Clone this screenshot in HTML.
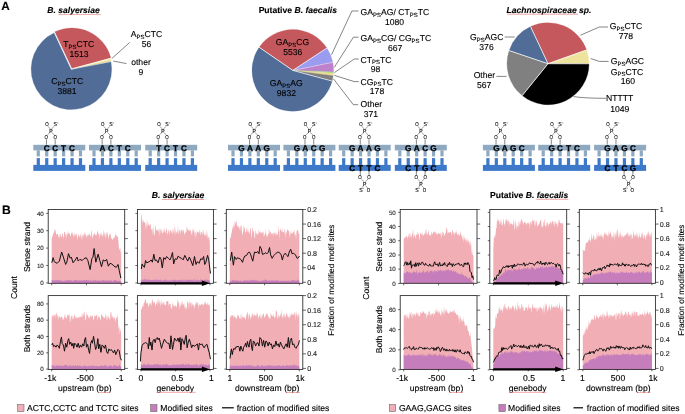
<!DOCTYPE html>
<html><head><meta charset="utf-8"><style>
html,body{margin:0;padding:0;background:#fff;overflow:hidden;width:685px;height:414px;}
svg{display:block;font-family:"Liberation Sans", sans-serif;text-rendering:geometricPrecision;filter:blur(0.4px);}
text{stroke:currentColor;stroke-width:0.12px;}
</style></head><body>
<svg width="685" height="414" viewBox="0 0 685 414">
<rect width="685" height="414" fill="#fff"/>
<text x="1.20" y="9.80" font-size="11.8" text-anchor="start" font-weight="bold" font-style="normal" fill="#000" color="#000" >A</text>
<text x="73.50" y="13.10" font-size="8.6" text-anchor="middle" font-weight="bold" font-style="italic" fill="#000" color="#000" >B. salyersiae</text>
<text x="297.8" y="13.4" font-size="8.6" text-anchor="middle" font-weight="bold">Putative <tspan font-style="italic">B. faecalis</tspan></text>
<text x="549.00" y="13.00" font-size="8.6" text-anchor="middle" font-weight="bold" font-style="italic" fill="#000" color="#000" >Lachnospiraceae sp.</text>
<path d="M71.40,69.30 L54.37,32.78 A40.3,40.3 0 0 1 110.29,58.72 Z" fill="#C5585D" stroke="#C5585D" stroke-width="0.25" transform="translate(0.51,-1.09)"/>
<path d="M71.40,69.30 L110.29,58.72 A40.3,40.3 0 0 1 110.89,61.24 Z" fill="#EEE39D" stroke="#EEE39D" stroke-width="0.25"/>
<path d="M71.40,69.30 L110.89,61.24 A40.3,40.3 0 0 1 110.97,61.65 Z" fill="#E8D58A" stroke="#E8D58A" stroke-width="0.25"/>
<path d="M71.40,69.30 L110.97,61.65 A40.3,40.3 0 1 1 54.37,32.78 Z" fill="#506C97" stroke="#506C97" stroke-width="0.25"/>
<line x1="71.40" y1="69.30" x2="54.24" y2="32.50" stroke="#fff" stroke-width="0.8"/>
<line x1="71.40" y1="69.30" x2="110.58" y2="58.64" stroke="#fff" stroke-width="0.45"/>
<line x1="71.40" y1="69.30" x2="111.26" y2="61.60" stroke="#fff" stroke-width="0.4"/>
<text x="78.80" y="47.20" font-size="8.6" text-anchor="middle" font-weight="normal" font-style="normal" fill="#000" color="#000" >T<tspan font-size="6.02" dy="1.72">PS</tspan><tspan dy="-1.72">CTC</tspan></text>
<text x="79.00" y="57.40" font-size="8.6" text-anchor="middle" font-weight="normal" font-style="normal" fill="#000" color="#000" >1513</text>
<text x="67.30" y="84.00" font-size="8.6" text-anchor="middle" font-weight="normal" font-style="normal" fill="#000" color="#000" >C<tspan font-size="6.02" dy="1.72">PS</tspan><tspan dy="-1.72">CTC</tspan></text>
<text x="67.10" y="94.30" font-size="8.6" text-anchor="middle" font-weight="normal" font-style="normal" fill="#000" color="#000" >3881</text>
<text x="146.50" y="37.30" font-size="8.6" text-anchor="middle" font-weight="normal" font-style="normal" fill="#000" color="#000" >A<tspan font-size="6.02" dy="1.72">PS</tspan><tspan dy="-1.72">CTC</tspan></text>
<text x="146.50" y="47.20" font-size="8.6" text-anchor="middle" font-weight="normal" font-style="normal" fill="#000" color="#000" >56</text>
<text x="141.00" y="65.30" font-size="8.6" text-anchor="middle" font-weight="normal" font-style="normal" fill="#000" color="#000" >other</text>
<text x="141.00" y="74.50" font-size="8.6" text-anchor="middle" font-weight="normal" font-style="normal" fill="#000" color="#000" >9</text>
<line x1="111.80" y1="58.50" x2="129.80" y2="42.40" stroke="#333" stroke-width="0.6"/>
<line x1="113.30" y1="61.00" x2="126.40" y2="63.60" stroke="#333" stroke-width="0.6"/>
<path d="M292.80,70.40 L259.18,47.29 A40.8,40.8 0 0 1 326.90,48.00 Z" fill="#C5585D" stroke="#C5585D" stroke-width="0.25"/>
<path d="M292.80,70.40 L326.90,48.00 A40.8,40.8 0 0 1 332.79,62.33 Z" fill="#9B9BF0" stroke="#9B9BF0" stroke-width="0.25"/>
<path d="M292.80,70.40 L332.79,62.33 A40.8,40.8 0 0 1 333.57,71.90 Z" fill="#BE82CD" stroke="#BE82CD" stroke-width="0.25"/>
<path d="M292.80,70.40 L333.57,71.90 A40.8,40.8 0 0 1 333.50,73.32 Z" fill="#A6DC88" stroke="#A6DC88" stroke-width="0.25"/>
<path d="M292.80,70.40 L333.50,73.32 A40.8,40.8 0 0 1 333.23,75.87 Z" fill="#ECDC8E" stroke="#ECDC8E" stroke-width="0.25"/>
<path d="M292.80,70.40 L333.23,75.87 A40.8,40.8 0 0 1 332.17,81.11 Z" fill="#808080" stroke="#808080" stroke-width="0.25"/>
<path d="M292.80,70.40 L332.17,81.11 A40.8,40.8 0 1 1 259.18,47.29 Z" fill="#506C97" stroke="#506C97" stroke-width="0.25"/>
<line x1="292.80" y1="70.40" x2="258.93" y2="47.12" stroke="#fff" stroke-width="0.8"/>
<line x1="292.80" y1="70.40" x2="327.15" y2="47.84" stroke="#fff" stroke-width="0.7"/>
<line x1="292.80" y1="70.40" x2="333.09" y2="62.27" stroke="#fff" stroke-width="0.4"/>
<line x1="292.80" y1="70.40" x2="332.46" y2="81.19" stroke="#fff" stroke-width="0.7"/>
<text x="292.40" y="45.10" font-size="8.6" text-anchor="middle" font-weight="normal" font-style="normal" fill="#000" color="#000" >GA<tspan font-size="6.02" dy="1.72">PS</tspan><tspan dy="-1.72">CG</tspan></text>
<text x="292.70" y="55.20" font-size="8.6" text-anchor="middle" font-weight="normal" font-style="normal" fill="#000" color="#000" >5536</text>
<text x="286.20" y="85.80" font-size="8.6" text-anchor="middle" font-weight="normal" font-style="normal" fill="#000" color="#000" >GA<tspan font-size="6.02" dy="1.72">PS</tspan><tspan dy="-1.72">AG</tspan></text>
<text x="286.40" y="95.80" font-size="8.6" text-anchor="middle" font-weight="normal" font-style="normal" fill="#000" color="#000" >9832</text>
<text x="360.60" y="15.00" font-size="8.6" text-anchor="start" font-weight="normal" font-style="normal" fill="#000" color="#000" >GA<tspan font-size="6.02" dy="1.72">PS</tspan><tspan dy="-1.72">AG/ CT</tspan><tspan font-size="6.02" dy="1.72">PS</tspan><tspan dy="-1.72">TC</tspan></text>
<text x="394.60" y="25.10" font-size="8.6" text-anchor="middle" font-weight="normal" font-style="normal" fill="#000" color="#000" >1080</text>
<text x="360.60" y="41.20" font-size="8.6" text-anchor="start" font-weight="normal" font-style="normal" fill="#000" color="#000" >GA<tspan font-size="6.02" dy="1.72">PS</tspan><tspan dy="-1.72">CG/ CG</tspan><tspan font-size="6.02" dy="1.72">PS</tspan><tspan dy="-1.72">TC</tspan></text>
<text x="395.20" y="51.10" font-size="8.6" text-anchor="middle" font-weight="normal" font-style="normal" fill="#000" color="#000" >667</text>
<text x="360.60" y="62.60" font-size="8.6" text-anchor="start" font-weight="normal" font-style="normal" fill="#000" color="#000" >CT<tspan font-size="6.02" dy="1.72">PS</tspan><tspan dy="-1.72">TC</tspan></text>
<text x="375.50" y="72.40" font-size="8.6" text-anchor="middle" font-weight="normal" font-style="normal" fill="#000" color="#000" >98</text>
<text x="360.60" y="84.50" font-size="8.6" text-anchor="start" font-weight="normal" font-style="normal" fill="#000" color="#000" >CG<tspan font-size="6.02" dy="1.72">PS</tspan><tspan dy="-1.72">TC</tspan></text>
<text x="377.00" y="94.30" font-size="8.6" text-anchor="middle" font-weight="normal" font-style="normal" fill="#000" color="#000" >178</text>
<text x="360.60" y="107.20" font-size="8.6" text-anchor="start" font-weight="normal" font-style="normal" fill="#000" color="#000" >Other</text>
<text x="370.80" y="117.40" font-size="8.6" text-anchor="middle" font-weight="normal" font-style="normal" fill="#000" color="#000" >371</text>
<polyline points="331.50,54.80 351.90,11.00 358.50,11.00" fill="none" stroke="#333" stroke-width="0.6"/>
<polyline points="334.30,67.30 353.40,37.20 358.50,37.20" fill="none" stroke="#333" stroke-width="0.6"/>
<polyline points="334.40,72.60 354.30,59.00 358.70,59.00" fill="none" stroke="#333" stroke-width="0.6"/>
<polyline points="334.40,75.40 354.30,81.60 358.70,81.60" fill="none" stroke="#333" stroke-width="0.6"/>
<polyline points="333.60,79.00 353.30,104.70 358.20,104.70" fill="none" stroke="#333" stroke-width="0.6"/>
<path d="M548.00,63.70 L530.54,26.60 A41.0,41.0 0 0 1 586.62,49.94 Z" fill="#C5585D" stroke="#C5585D" stroke-width="0.25"/>
<path d="M548.00,63.70 L586.62,49.94 A41.0,41.0 0 0 1 589.00,63.74 Z" fill="#EEE39D" stroke="#EEE39D" stroke-width="0.25"/>
<path d="M548.00,63.70 L589.00,63.74 A41.0,41.0 0 0 1 522.23,95.59 Z" fill="#000" stroke="#000" stroke-width="0.25"/>
<path d="M548.00,63.70 L522.23,95.59 A41.0,41.0 0 0 1 509.14,50.62 Z" fill="#808080" stroke="#808080" stroke-width="0.25"/>
<path d="M548.00,63.70 L509.14,50.62 A41.0,41.0 0 0 1 530.54,26.60 Z" fill="#506C97" stroke="#506C97" stroke-width="0.25"/>
<line x1="548.00" y1="63.70" x2="530.42" y2="26.33" stroke="#fff" stroke-width="0.8"/>
<line x1="548.00" y1="63.70" x2="586.90" y2="49.84" stroke="#fff" stroke-width="0.8"/>
<line x1="548.00" y1="63.70" x2="589.30" y2="63.74" stroke="#fff" stroke-width="0.8"/>
<line x1="548.00" y1="63.70" x2="522.04" y2="95.82" stroke="#fff" stroke-width="0.8"/>
<line x1="548.00" y1="63.70" x2="508.86" y2="50.53" stroke="#fff" stroke-width="0.8"/>
<text x="486.70" y="40.30" font-size="8.6" text-anchor="middle" font-weight="normal" font-style="normal" fill="#000" color="#000" >G<tspan font-size="6.02" dy="1.72">PS</tspan><tspan dy="-1.72">AGC</tspan></text>
<text x="486.50" y="50.10" font-size="8.6" text-anchor="middle" font-weight="normal" font-style="normal" fill="#000" color="#000" >376</text>
<text x="484.40" y="78.10" font-size="8.6" text-anchor="middle" font-weight="normal" font-style="normal" fill="#000" color="#000" >Other</text>
<text x="484.10" y="88.00" font-size="8.6" text-anchor="middle" font-weight="normal" font-style="normal" fill="#000" color="#000" >567</text>
<text x="625.90" y="29.30" font-size="8.6" text-anchor="middle" font-weight="normal" font-style="normal" fill="#000" color="#000" >G<tspan font-size="6.02" dy="1.72">PS</tspan><tspan dy="-1.72">CTC</tspan></text>
<text x="625.90" y="39.40" font-size="8.6" text-anchor="middle" font-weight="normal" font-style="normal" fill="#000" color="#000" >778</text>
<text x="627.40" y="64.40" font-size="8.6" text-anchor="middle" font-weight="normal" font-style="normal" fill="#000" color="#000" >G<tspan font-size="6.02" dy="1.72">PS</tspan><tspan dy="-1.72">AGC</tspan></text>
<text x="627.00" y="74.60" font-size="8.6" text-anchor="middle" font-weight="normal" font-style="normal" fill="#000" color="#000" >G<tspan font-size="6.02" dy="1.72">PS</tspan><tspan dy="-1.72">CTC</tspan></text>
<text x="627.80" y="84.40" font-size="8.6" text-anchor="middle" font-weight="normal" font-style="normal" fill="#000" color="#000" >160</text>
<text x="619.60" y="101.00" font-size="8.6" text-anchor="middle" font-weight="normal" font-style="normal" fill="#000" color="#000" >NTTTT</text>
<text x="619.80" y="111.60" font-size="8.6" text-anchor="middle" font-weight="normal" font-style="normal" fill="#000" color="#000" >1049</text>
<line x1="504.70" y1="37.00" x2="514.70" y2="37.00" stroke="#333" stroke-width="0.6"/>
<line x1="496.40" y1="76.40" x2="506.60" y2="76.40" stroke="#333" stroke-width="0.6"/>
<polyline points="580.50,35.20 599.30,27.00 608.00,27.00" fill="none" stroke="#333" stroke-width="0.6"/>
<polyline points="590.60,58.50 599.30,61.40 608.60,61.40" fill="none" stroke="#333" stroke-width="0.6"/>
<path d="M573.4,96.6 Q585,98.3 606,98.3" fill="none" stroke="#333" stroke-width="0.6"/>
<rect x="33.30" y="144.8" width="52.0" height="5.6" fill="#8FA9C1"/>
<rect x="33.30" y="164.9" width="52.0" height="6.0" fill="#3D79C8"/>
<rect x="36.70" y="150.3" width="3.2" height="6.1" fill="#8FA9C1"/>
<rect x="36.70" y="158.1" width="3.2" height="6.9" fill="#3D79C8"/>
<rect x="45.14" y="150.3" width="3.2" height="6.1" fill="#8FA9C1"/>
<rect x="45.14" y="158.1" width="3.2" height="6.9" fill="#3D79C8"/>
<rect x="53.58" y="150.3" width="3.2" height="6.1" fill="#8FA9C1"/>
<rect x="53.58" y="158.1" width="3.2" height="6.9" fill="#3D79C8"/>
<rect x="62.02" y="150.3" width="3.2" height="6.1" fill="#8FA9C1"/>
<rect x="62.02" y="158.1" width="3.2" height="6.9" fill="#3D79C8"/>
<rect x="70.46" y="150.3" width="3.2" height="6.1" fill="#8FA9C1"/>
<rect x="70.46" y="158.1" width="3.2" height="6.9" fill="#3D79C8"/>
<rect x="78.90" y="150.3" width="3.2" height="6.1" fill="#8FA9C1"/>
<rect x="78.90" y="158.1" width="3.2" height="6.9" fill="#3D79C8"/>
<text x="46.74" y="150.50" font-size="8.2" text-anchor="middle" font-weight="bold" font-style="normal" fill="#000" color="#000" style="stroke-width:0.3px">C</text>
<text x="55.18" y="150.50" font-size="8.2" text-anchor="middle" font-weight="bold" font-style="normal" fill="#000" color="#000" style="stroke-width:0.3px">C</text>
<text x="63.62" y="150.50" font-size="8.2" text-anchor="middle" font-weight="bold" font-style="normal" fill="#000" color="#000" style="stroke-width:0.3px">T</text>
<text x="72.06" y="150.50" font-size="8.2" text-anchor="middle" font-weight="bold" font-style="normal" fill="#000" color="#000" style="stroke-width:0.3px">C</text>
<text x="47.04" y="126.45" font-size="5.7" text-anchor="middle" textLength="3.42" lengthAdjust="spacingAndGlyphs">O</text>
<text x="55.18" y="126.45" font-size="5.7" text-anchor="middle" textLength="3.42" lengthAdjust="spacingAndGlyphs">S</text>
<line x1="57.08" y1="123.00" x2="58.38" y2="123.00" stroke="#222" stroke-width="0.45"/>
<text x="50.96" y="132.65" font-size="5.7" text-anchor="middle" textLength="3.42" lengthAdjust="spacingAndGlyphs">P</text>
<text x="46.24" y="139.05" font-size="5.7" text-anchor="middle" textLength="3.42" lengthAdjust="spacingAndGlyphs">O</text>
<text x="55.18" y="139.05" font-size="5.7" text-anchor="middle" textLength="3.42" lengthAdjust="spacingAndGlyphs">O</text>
<line x1="47.94" y1="126.30" x2="50.26" y2="128.90" stroke="#222" stroke-width="0.42"/>
<line x1="54.08" y1="126.30" x2="51.66" y2="128.90" stroke="#222" stroke-width="0.42"/>
<line x1="50.16" y1="132.30" x2="47.34" y2="135.00" stroke="#222" stroke-width="0.42"/>
<line x1="51.76" y1="132.30" x2="54.28" y2="135.00" stroke="#222" stroke-width="0.42"/>
<line x1="46.44" y1="139.20" x2="46.44" y2="144.60" stroke="#222" stroke-width="0.55"/>
<line x1="55.18" y1="139.20" x2="55.18" y2="144.60" stroke="#222" stroke-width="0.55"/>
<rect x="89.00" y="144.8" width="52.0" height="5.6" fill="#8FA9C1"/>
<rect x="89.00" y="164.9" width="52.0" height="6.0" fill="#3D79C8"/>
<rect x="92.40" y="150.3" width="3.2" height="6.1" fill="#8FA9C1"/>
<rect x="92.40" y="158.1" width="3.2" height="6.9" fill="#3D79C8"/>
<rect x="100.84" y="150.3" width="3.2" height="6.1" fill="#8FA9C1"/>
<rect x="100.84" y="158.1" width="3.2" height="6.9" fill="#3D79C8"/>
<rect x="109.28" y="150.3" width="3.2" height="6.1" fill="#8FA9C1"/>
<rect x="109.28" y="158.1" width="3.2" height="6.9" fill="#3D79C8"/>
<rect x="117.72" y="150.3" width="3.2" height="6.1" fill="#8FA9C1"/>
<rect x="117.72" y="158.1" width="3.2" height="6.9" fill="#3D79C8"/>
<rect x="126.16" y="150.3" width="3.2" height="6.1" fill="#8FA9C1"/>
<rect x="126.16" y="158.1" width="3.2" height="6.9" fill="#3D79C8"/>
<rect x="134.60" y="150.3" width="3.2" height="6.1" fill="#8FA9C1"/>
<rect x="134.60" y="158.1" width="3.2" height="6.9" fill="#3D79C8"/>
<text x="102.44" y="150.50" font-size="8.2" text-anchor="middle" font-weight="bold" font-style="normal" fill="#000" color="#000" style="stroke-width:0.3px">A</text>
<text x="110.88" y="150.50" font-size="8.2" text-anchor="middle" font-weight="bold" font-style="normal" fill="#000" color="#000" style="stroke-width:0.3px">C</text>
<text x="119.32" y="150.50" font-size="8.2" text-anchor="middle" font-weight="bold" font-style="normal" fill="#000" color="#000" style="stroke-width:0.3px">T</text>
<text x="127.76" y="150.50" font-size="8.2" text-anchor="middle" font-weight="bold" font-style="normal" fill="#000" color="#000" style="stroke-width:0.3px">C</text>
<text x="102.74" y="126.45" font-size="5.7" text-anchor="middle" textLength="3.42" lengthAdjust="spacingAndGlyphs">O</text>
<text x="110.88" y="126.45" font-size="5.7" text-anchor="middle" textLength="3.42" lengthAdjust="spacingAndGlyphs">S</text>
<line x1="112.78" y1="123.00" x2="114.08" y2="123.00" stroke="#222" stroke-width="0.45"/>
<text x="106.66" y="132.65" font-size="5.7" text-anchor="middle" textLength="3.42" lengthAdjust="spacingAndGlyphs">P</text>
<text x="101.94" y="139.05" font-size="5.7" text-anchor="middle" textLength="3.42" lengthAdjust="spacingAndGlyphs">O</text>
<text x="110.88" y="139.05" font-size="5.7" text-anchor="middle" textLength="3.42" lengthAdjust="spacingAndGlyphs">O</text>
<line x1="103.64" y1="126.30" x2="105.96" y2="128.90" stroke="#222" stroke-width="0.42"/>
<line x1="109.78" y1="126.30" x2="107.36" y2="128.90" stroke="#222" stroke-width="0.42"/>
<line x1="105.86" y1="132.30" x2="103.04" y2="135.00" stroke="#222" stroke-width="0.42"/>
<line x1="107.46" y1="132.30" x2="109.98" y2="135.00" stroke="#222" stroke-width="0.42"/>
<line x1="102.14" y1="139.20" x2="102.14" y2="144.60" stroke="#222" stroke-width="0.55"/>
<line x1="110.88" y1="139.20" x2="110.88" y2="144.60" stroke="#222" stroke-width="0.55"/>
<rect x="145.20" y="144.8" width="52.0" height="5.6" fill="#8FA9C1"/>
<rect x="145.20" y="164.9" width="52.0" height="6.0" fill="#3D79C8"/>
<rect x="148.60" y="150.3" width="3.2" height="6.1" fill="#8FA9C1"/>
<rect x="148.60" y="158.1" width="3.2" height="6.9" fill="#3D79C8"/>
<rect x="157.04" y="150.3" width="3.2" height="6.1" fill="#8FA9C1"/>
<rect x="157.04" y="158.1" width="3.2" height="6.9" fill="#3D79C8"/>
<rect x="165.48" y="150.3" width="3.2" height="6.1" fill="#8FA9C1"/>
<rect x="165.48" y="158.1" width="3.2" height="6.9" fill="#3D79C8"/>
<rect x="173.92" y="150.3" width="3.2" height="6.1" fill="#8FA9C1"/>
<rect x="173.92" y="158.1" width="3.2" height="6.9" fill="#3D79C8"/>
<rect x="182.36" y="150.3" width="3.2" height="6.1" fill="#8FA9C1"/>
<rect x="182.36" y="158.1" width="3.2" height="6.9" fill="#3D79C8"/>
<rect x="190.80" y="150.3" width="3.2" height="6.1" fill="#8FA9C1"/>
<rect x="190.80" y="158.1" width="3.2" height="6.9" fill="#3D79C8"/>
<text x="158.64" y="150.50" font-size="8.2" text-anchor="middle" font-weight="bold" font-style="normal" fill="#000" color="#000" style="stroke-width:0.3px">T</text>
<text x="167.08" y="150.50" font-size="8.2" text-anchor="middle" font-weight="bold" font-style="normal" fill="#000" color="#000" style="stroke-width:0.3px">C</text>
<text x="175.52" y="150.50" font-size="8.2" text-anchor="middle" font-weight="bold" font-style="normal" fill="#000" color="#000" style="stroke-width:0.3px">T</text>
<text x="183.96" y="150.50" font-size="8.2" text-anchor="middle" font-weight="bold" font-style="normal" fill="#000" color="#000" style="stroke-width:0.3px">C</text>
<text x="158.94" y="126.45" font-size="5.7" text-anchor="middle" textLength="3.42" lengthAdjust="spacingAndGlyphs">O</text>
<text x="167.08" y="126.45" font-size="5.7" text-anchor="middle" textLength="3.42" lengthAdjust="spacingAndGlyphs">S</text>
<line x1="168.98" y1="123.00" x2="170.28" y2="123.00" stroke="#222" stroke-width="0.45"/>
<text x="162.86" y="132.65" font-size="5.7" text-anchor="middle" textLength="3.42" lengthAdjust="spacingAndGlyphs">P</text>
<text x="158.14" y="139.05" font-size="5.7" text-anchor="middle" textLength="3.42" lengthAdjust="spacingAndGlyphs">O</text>
<text x="167.08" y="139.05" font-size="5.7" text-anchor="middle" textLength="3.42" lengthAdjust="spacingAndGlyphs">O</text>
<line x1="159.84" y1="126.30" x2="162.16" y2="128.90" stroke="#222" stroke-width="0.42"/>
<line x1="165.98" y1="126.30" x2="163.56" y2="128.90" stroke="#222" stroke-width="0.42"/>
<line x1="162.06" y1="132.30" x2="159.24" y2="135.00" stroke="#222" stroke-width="0.42"/>
<line x1="163.66" y1="132.30" x2="166.18" y2="135.00" stroke="#222" stroke-width="0.42"/>
<line x1="158.34" y1="139.20" x2="158.34" y2="144.60" stroke="#222" stroke-width="0.55"/>
<line x1="167.08" y1="139.20" x2="167.08" y2="144.60" stroke="#222" stroke-width="0.55"/>
<rect x="228.00" y="144.8" width="52.0" height="5.6" fill="#8FA9C1"/>
<rect x="228.00" y="164.9" width="52.0" height="6.0" fill="#3D79C8"/>
<rect x="231.40" y="150.3" width="3.2" height="6.1" fill="#8FA9C1"/>
<rect x="231.40" y="158.1" width="3.2" height="6.9" fill="#3D79C8"/>
<rect x="239.84" y="150.3" width="3.2" height="6.1" fill="#8FA9C1"/>
<rect x="239.84" y="158.1" width="3.2" height="6.9" fill="#3D79C8"/>
<rect x="248.28" y="150.3" width="3.2" height="6.1" fill="#8FA9C1"/>
<rect x="248.28" y="158.1" width="3.2" height="6.9" fill="#3D79C8"/>
<rect x="256.72" y="150.3" width="3.2" height="6.1" fill="#8FA9C1"/>
<rect x="256.72" y="158.1" width="3.2" height="6.9" fill="#3D79C8"/>
<rect x="265.16" y="150.3" width="3.2" height="6.1" fill="#8FA9C1"/>
<rect x="265.16" y="158.1" width="3.2" height="6.9" fill="#3D79C8"/>
<rect x="273.60" y="150.3" width="3.2" height="6.1" fill="#8FA9C1"/>
<rect x="273.60" y="158.1" width="3.2" height="6.9" fill="#3D79C8"/>
<text x="241.44" y="150.50" font-size="8.2" text-anchor="middle" font-weight="bold" font-style="normal" fill="#000" color="#000" style="stroke-width:0.3px">G</text>
<text x="249.88" y="150.50" font-size="8.2" text-anchor="middle" font-weight="bold" font-style="normal" fill="#000" color="#000" style="stroke-width:0.3px">A</text>
<text x="258.32" y="150.50" font-size="8.2" text-anchor="middle" font-weight="bold" font-style="normal" fill="#000" color="#000" style="stroke-width:0.3px">A</text>
<text x="266.76" y="150.50" font-size="8.2" text-anchor="middle" font-weight="bold" font-style="normal" fill="#000" color="#000" style="stroke-width:0.3px">G</text>
<text x="250.18" y="126.45" font-size="5.7" text-anchor="middle" textLength="3.42" lengthAdjust="spacingAndGlyphs">O</text>
<text x="258.32" y="126.45" font-size="5.7" text-anchor="middle" textLength="3.42" lengthAdjust="spacingAndGlyphs">S</text>
<line x1="260.22" y1="123.00" x2="261.52" y2="123.00" stroke="#222" stroke-width="0.45"/>
<text x="254.10" y="132.65" font-size="5.7" text-anchor="middle" textLength="3.42" lengthAdjust="spacingAndGlyphs">P</text>
<text x="249.38" y="139.05" font-size="5.7" text-anchor="middle" textLength="3.42" lengthAdjust="spacingAndGlyphs">O</text>
<text x="258.32" y="139.05" font-size="5.7" text-anchor="middle" textLength="3.42" lengthAdjust="spacingAndGlyphs">O</text>
<line x1="251.08" y1="126.30" x2="253.40" y2="128.90" stroke="#222" stroke-width="0.42"/>
<line x1="257.22" y1="126.30" x2="254.80" y2="128.90" stroke="#222" stroke-width="0.42"/>
<line x1="253.30" y1="132.30" x2="250.48" y2="135.00" stroke="#222" stroke-width="0.42"/>
<line x1="254.90" y1="132.30" x2="257.42" y2="135.00" stroke="#222" stroke-width="0.42"/>
<line x1="249.58" y1="139.20" x2="249.58" y2="144.60" stroke="#222" stroke-width="0.55"/>
<line x1="258.32" y1="139.20" x2="258.32" y2="144.60" stroke="#222" stroke-width="0.55"/>
<rect x="283.40" y="144.8" width="52.0" height="5.6" fill="#8FA9C1"/>
<rect x="283.40" y="164.9" width="52.0" height="6.0" fill="#3D79C8"/>
<rect x="286.80" y="150.3" width="3.2" height="6.1" fill="#8FA9C1"/>
<rect x="286.80" y="158.1" width="3.2" height="6.9" fill="#3D79C8"/>
<rect x="295.24" y="150.3" width="3.2" height="6.1" fill="#8FA9C1"/>
<rect x="295.24" y="158.1" width="3.2" height="6.9" fill="#3D79C8"/>
<rect x="303.68" y="150.3" width="3.2" height="6.1" fill="#8FA9C1"/>
<rect x="303.68" y="158.1" width="3.2" height="6.9" fill="#3D79C8"/>
<rect x="312.12" y="150.3" width="3.2" height="6.1" fill="#8FA9C1"/>
<rect x="312.12" y="158.1" width="3.2" height="6.9" fill="#3D79C8"/>
<rect x="320.56" y="150.3" width="3.2" height="6.1" fill="#8FA9C1"/>
<rect x="320.56" y="158.1" width="3.2" height="6.9" fill="#3D79C8"/>
<rect x="329.00" y="150.3" width="3.2" height="6.1" fill="#8FA9C1"/>
<rect x="329.00" y="158.1" width="3.2" height="6.9" fill="#3D79C8"/>
<text x="296.84" y="150.50" font-size="8.2" text-anchor="middle" font-weight="bold" font-style="normal" fill="#000" color="#000" style="stroke-width:0.3px">G</text>
<text x="305.28" y="150.50" font-size="8.2" text-anchor="middle" font-weight="bold" font-style="normal" fill="#000" color="#000" style="stroke-width:0.3px">A</text>
<text x="313.72" y="150.50" font-size="8.2" text-anchor="middle" font-weight="bold" font-style="normal" fill="#000" color="#000" style="stroke-width:0.3px">C</text>
<text x="322.16" y="150.50" font-size="8.2" text-anchor="middle" font-weight="bold" font-style="normal" fill="#000" color="#000" style="stroke-width:0.3px">G</text>
<text x="305.58" y="126.45" font-size="5.7" text-anchor="middle" textLength="3.42" lengthAdjust="spacingAndGlyphs">O</text>
<text x="313.72" y="126.45" font-size="5.7" text-anchor="middle" textLength="3.42" lengthAdjust="spacingAndGlyphs">S</text>
<line x1="315.62" y1="123.00" x2="316.92" y2="123.00" stroke="#222" stroke-width="0.45"/>
<text x="309.50" y="132.65" font-size="5.7" text-anchor="middle" textLength="3.42" lengthAdjust="spacingAndGlyphs">P</text>
<text x="304.78" y="139.05" font-size="5.7" text-anchor="middle" textLength="3.42" lengthAdjust="spacingAndGlyphs">O</text>
<text x="313.72" y="139.05" font-size="5.7" text-anchor="middle" textLength="3.42" lengthAdjust="spacingAndGlyphs">O</text>
<line x1="306.48" y1="126.30" x2="308.80" y2="128.90" stroke="#222" stroke-width="0.42"/>
<line x1="312.62" y1="126.30" x2="310.20" y2="128.90" stroke="#222" stroke-width="0.42"/>
<line x1="308.70" y1="132.30" x2="305.88" y2="135.00" stroke="#222" stroke-width="0.42"/>
<line x1="310.30" y1="132.30" x2="312.82" y2="135.00" stroke="#222" stroke-width="0.42"/>
<line x1="304.98" y1="139.20" x2="304.98" y2="144.60" stroke="#222" stroke-width="0.55"/>
<line x1="313.72" y1="139.20" x2="313.72" y2="144.60" stroke="#222" stroke-width="0.55"/>
<rect x="338.70" y="144.8" width="52.0" height="5.6" fill="#8FA9C1"/>
<rect x="338.70" y="164.9" width="52.0" height="6.0" fill="#3D79C8"/>
<rect x="342.10" y="150.3" width="3.2" height="6.1" fill="#8FA9C1"/>
<rect x="342.10" y="158.1" width="3.2" height="6.9" fill="#3D79C8"/>
<rect x="350.54" y="150.3" width="3.2" height="6.1" fill="#8FA9C1"/>
<rect x="350.54" y="158.1" width="3.2" height="6.9" fill="#3D79C8"/>
<rect x="358.98" y="150.3" width="3.2" height="6.1" fill="#8FA9C1"/>
<rect x="358.98" y="158.1" width="3.2" height="6.9" fill="#3D79C8"/>
<rect x="367.42" y="150.3" width="3.2" height="6.1" fill="#8FA9C1"/>
<rect x="367.42" y="158.1" width="3.2" height="6.9" fill="#3D79C8"/>
<rect x="375.86" y="150.3" width="3.2" height="6.1" fill="#8FA9C1"/>
<rect x="375.86" y="158.1" width="3.2" height="6.9" fill="#3D79C8"/>
<rect x="384.30" y="150.3" width="3.2" height="6.1" fill="#8FA9C1"/>
<rect x="384.30" y="158.1" width="3.2" height="6.9" fill="#3D79C8"/>
<text x="352.14" y="150.50" font-size="8.2" text-anchor="middle" font-weight="bold" font-style="normal" fill="#000" color="#000" style="stroke-width:0.3px">G</text>
<text x="360.58" y="150.50" font-size="8.2" text-anchor="middle" font-weight="bold" font-style="normal" fill="#000" color="#000" style="stroke-width:0.3px">A</text>
<text x="369.02" y="150.50" font-size="8.2" text-anchor="middle" font-weight="bold" font-style="normal" fill="#000" color="#000" style="stroke-width:0.3px">A</text>
<text x="377.46" y="150.50" font-size="8.2" text-anchor="middle" font-weight="bold" font-style="normal" fill="#000" color="#000" style="stroke-width:0.3px">G</text>
<text x="360.88" y="126.45" font-size="5.7" text-anchor="middle" textLength="3.42" lengthAdjust="spacingAndGlyphs">O</text>
<text x="369.02" y="126.45" font-size="5.7" text-anchor="middle" textLength="3.42" lengthAdjust="spacingAndGlyphs">S</text>
<line x1="370.92" y1="123.00" x2="372.22" y2="123.00" stroke="#222" stroke-width="0.45"/>
<text x="364.80" y="132.65" font-size="5.7" text-anchor="middle" textLength="3.42" lengthAdjust="spacingAndGlyphs">P</text>
<text x="360.08" y="139.05" font-size="5.7" text-anchor="middle" textLength="3.42" lengthAdjust="spacingAndGlyphs">O</text>
<text x="369.02" y="139.05" font-size="5.7" text-anchor="middle" textLength="3.42" lengthAdjust="spacingAndGlyphs">O</text>
<line x1="361.78" y1="126.30" x2="364.10" y2="128.90" stroke="#222" stroke-width="0.42"/>
<line x1="367.92" y1="126.30" x2="365.50" y2="128.90" stroke="#222" stroke-width="0.42"/>
<line x1="364.00" y1="132.30" x2="361.18" y2="135.00" stroke="#222" stroke-width="0.42"/>
<line x1="365.60" y1="132.30" x2="368.12" y2="135.00" stroke="#222" stroke-width="0.42"/>
<line x1="360.28" y1="139.20" x2="360.28" y2="144.60" stroke="#222" stroke-width="0.55"/>
<line x1="369.02" y1="139.20" x2="369.02" y2="144.60" stroke="#222" stroke-width="0.55"/>
<text x="352.14" y="170.80" font-size="8.2" text-anchor="middle" font-weight="bold" font-style="normal" fill="#000" color="#000" style="stroke-width:0.3px">C</text>
<text x="360.58" y="170.80" font-size="8.2" text-anchor="middle" font-weight="bold" font-style="normal" fill="#000" color="#000" style="stroke-width:0.3px">T</text>
<text x="369.02" y="170.80" font-size="8.2" text-anchor="middle" font-weight="bold" font-style="normal" fill="#000" color="#000" style="stroke-width:0.3px">T</text>
<text x="377.46" y="170.80" font-size="8.2" text-anchor="middle" font-weight="bold" font-style="normal" fill="#000" color="#000" style="stroke-width:0.3px">C</text>
<text x="360.08" y="179.05" font-size="5.7" text-anchor="middle" textLength="3.42" lengthAdjust="spacingAndGlyphs">O</text>
<text x="369.02" y="179.05" font-size="5.7" text-anchor="middle" textLength="3.42" lengthAdjust="spacingAndGlyphs">O</text>
<text x="364.80" y="185.55" font-size="5.7" text-anchor="middle" textLength="3.42" lengthAdjust="spacingAndGlyphs">P</text>
<text x="360.88" y="192.05" font-size="5.7" text-anchor="middle" textLength="3.42" lengthAdjust="spacingAndGlyphs">S</text>
<line x1="362.78" y1="188.30" x2="363.98" y2="188.30" stroke="#222" stroke-width="0.45"/>
<text x="368.42" y="192.05" font-size="5.7" text-anchor="middle" textLength="3.42" lengthAdjust="spacingAndGlyphs">O</text>
<line x1="360.28" y1="170.90" x2="360.28" y2="174.90" stroke="#222" stroke-width="0.55"/>
<line x1="369.02" y1="170.90" x2="369.02" y2="174.90" stroke="#222" stroke-width="0.55"/>
<line x1="361.38" y1="179.00" x2="364.20" y2="181.80" stroke="#222" stroke-width="0.42"/>
<line x1="368.02" y1="179.00" x2="365.40" y2="181.80" stroke="#222" stroke-width="0.42"/>
<line x1="364.20" y1="185.30" x2="361.58" y2="187.90" stroke="#222" stroke-width="0.42"/>
<line x1="365.40" y1="185.30" x2="367.62" y2="187.90" stroke="#222" stroke-width="0.42"/>
<rect x="394.80" y="144.8" width="52.0" height="5.6" fill="#8FA9C1"/>
<rect x="394.80" y="164.9" width="52.0" height="6.0" fill="#3D79C8"/>
<rect x="398.20" y="150.3" width="3.2" height="6.1" fill="#8FA9C1"/>
<rect x="398.20" y="158.1" width="3.2" height="6.9" fill="#3D79C8"/>
<rect x="406.64" y="150.3" width="3.2" height="6.1" fill="#8FA9C1"/>
<rect x="406.64" y="158.1" width="3.2" height="6.9" fill="#3D79C8"/>
<rect x="415.08" y="150.3" width="3.2" height="6.1" fill="#8FA9C1"/>
<rect x="415.08" y="158.1" width="3.2" height="6.9" fill="#3D79C8"/>
<rect x="423.52" y="150.3" width="3.2" height="6.1" fill="#8FA9C1"/>
<rect x="423.52" y="158.1" width="3.2" height="6.9" fill="#3D79C8"/>
<rect x="431.96" y="150.3" width="3.2" height="6.1" fill="#8FA9C1"/>
<rect x="431.96" y="158.1" width="3.2" height="6.9" fill="#3D79C8"/>
<rect x="440.40" y="150.3" width="3.2" height="6.1" fill="#8FA9C1"/>
<rect x="440.40" y="158.1" width="3.2" height="6.9" fill="#3D79C8"/>
<text x="408.24" y="150.50" font-size="8.2" text-anchor="middle" font-weight="bold" font-style="normal" fill="#000" color="#000" style="stroke-width:0.3px">G</text>
<text x="416.68" y="150.50" font-size="8.2" text-anchor="middle" font-weight="bold" font-style="normal" fill="#000" color="#000" style="stroke-width:0.3px">A</text>
<text x="425.12" y="150.50" font-size="8.2" text-anchor="middle" font-weight="bold" font-style="normal" fill="#000" color="#000" style="stroke-width:0.3px">C</text>
<text x="433.56" y="150.50" font-size="8.2" text-anchor="middle" font-weight="bold" font-style="normal" fill="#000" color="#000" style="stroke-width:0.3px">G</text>
<text x="416.98" y="126.45" font-size="5.7" text-anchor="middle" textLength="3.42" lengthAdjust="spacingAndGlyphs">O</text>
<text x="425.12" y="126.45" font-size="5.7" text-anchor="middle" textLength="3.42" lengthAdjust="spacingAndGlyphs">S</text>
<line x1="427.02" y1="123.00" x2="428.32" y2="123.00" stroke="#222" stroke-width="0.45"/>
<text x="420.90" y="132.65" font-size="5.7" text-anchor="middle" textLength="3.42" lengthAdjust="spacingAndGlyphs">P</text>
<text x="416.18" y="139.05" font-size="5.7" text-anchor="middle" textLength="3.42" lengthAdjust="spacingAndGlyphs">O</text>
<text x="425.12" y="139.05" font-size="5.7" text-anchor="middle" textLength="3.42" lengthAdjust="spacingAndGlyphs">O</text>
<line x1="417.88" y1="126.30" x2="420.20" y2="128.90" stroke="#222" stroke-width="0.42"/>
<line x1="424.02" y1="126.30" x2="421.60" y2="128.90" stroke="#222" stroke-width="0.42"/>
<line x1="420.10" y1="132.30" x2="417.28" y2="135.00" stroke="#222" stroke-width="0.42"/>
<line x1="421.70" y1="132.30" x2="424.22" y2="135.00" stroke="#222" stroke-width="0.42"/>
<line x1="416.38" y1="139.20" x2="416.38" y2="144.60" stroke="#222" stroke-width="0.55"/>
<line x1="425.12" y1="139.20" x2="425.12" y2="144.60" stroke="#222" stroke-width="0.55"/>
<text x="408.24" y="170.80" font-size="8.2" text-anchor="middle" font-weight="bold" font-style="normal" fill="#000" color="#000" style="stroke-width:0.3px">C</text>
<text x="416.68" y="170.80" font-size="8.2" text-anchor="middle" font-weight="bold" font-style="normal" fill="#000" color="#000" style="stroke-width:0.3px">T</text>
<text x="425.12" y="170.80" font-size="8.2" text-anchor="middle" font-weight="bold" font-style="normal" fill="#000" color="#000" style="stroke-width:0.3px">G</text>
<text x="433.56" y="170.80" font-size="8.2" text-anchor="middle" font-weight="bold" font-style="normal" fill="#000" color="#000" style="stroke-width:0.3px">C</text>
<text x="416.18" y="179.05" font-size="5.7" text-anchor="middle" textLength="3.42" lengthAdjust="spacingAndGlyphs">O</text>
<text x="425.12" y="179.05" font-size="5.7" text-anchor="middle" textLength="3.42" lengthAdjust="spacingAndGlyphs">O</text>
<text x="420.90" y="185.55" font-size="5.7" text-anchor="middle" textLength="3.42" lengthAdjust="spacingAndGlyphs">P</text>
<text x="416.98" y="192.05" font-size="5.7" text-anchor="middle" textLength="3.42" lengthAdjust="spacingAndGlyphs">S</text>
<line x1="418.88" y1="188.30" x2="420.08" y2="188.30" stroke="#222" stroke-width="0.45"/>
<text x="424.52" y="192.05" font-size="5.7" text-anchor="middle" textLength="3.42" lengthAdjust="spacingAndGlyphs">O</text>
<line x1="416.38" y1="170.90" x2="416.38" y2="174.90" stroke="#222" stroke-width="0.55"/>
<line x1="425.12" y1="170.90" x2="425.12" y2="174.90" stroke="#222" stroke-width="0.55"/>
<line x1="417.48" y1="179.00" x2="420.30" y2="181.80" stroke="#222" stroke-width="0.42"/>
<line x1="424.12" y1="179.00" x2="421.50" y2="181.80" stroke="#222" stroke-width="0.42"/>
<line x1="420.30" y1="185.30" x2="417.68" y2="187.90" stroke="#222" stroke-width="0.42"/>
<line x1="421.50" y1="185.30" x2="423.72" y2="187.90" stroke="#222" stroke-width="0.42"/>
<rect x="482.90" y="144.8" width="52.0" height="5.6" fill="#8FA9C1"/>
<rect x="482.90" y="164.9" width="52.0" height="6.0" fill="#3D79C8"/>
<rect x="486.30" y="150.3" width="3.2" height="6.1" fill="#8FA9C1"/>
<rect x="486.30" y="158.1" width="3.2" height="6.9" fill="#3D79C8"/>
<rect x="494.74" y="150.3" width="3.2" height="6.1" fill="#8FA9C1"/>
<rect x="494.74" y="158.1" width="3.2" height="6.9" fill="#3D79C8"/>
<rect x="503.18" y="150.3" width="3.2" height="6.1" fill="#8FA9C1"/>
<rect x="503.18" y="158.1" width="3.2" height="6.9" fill="#3D79C8"/>
<rect x="511.62" y="150.3" width="3.2" height="6.1" fill="#8FA9C1"/>
<rect x="511.62" y="158.1" width="3.2" height="6.9" fill="#3D79C8"/>
<rect x="520.06" y="150.3" width="3.2" height="6.1" fill="#8FA9C1"/>
<rect x="520.06" y="158.1" width="3.2" height="6.9" fill="#3D79C8"/>
<rect x="528.50" y="150.3" width="3.2" height="6.1" fill="#8FA9C1"/>
<rect x="528.50" y="158.1" width="3.2" height="6.9" fill="#3D79C8"/>
<text x="496.34" y="150.50" font-size="8.2" text-anchor="middle" font-weight="bold" font-style="normal" fill="#000" color="#000" style="stroke-width:0.3px">G</text>
<text x="504.78" y="150.50" font-size="8.2" text-anchor="middle" font-weight="bold" font-style="normal" fill="#000" color="#000" style="stroke-width:0.3px">A</text>
<text x="513.22" y="150.50" font-size="8.2" text-anchor="middle" font-weight="bold" font-style="normal" fill="#000" color="#000" style="stroke-width:0.3px">G</text>
<text x="521.66" y="150.50" font-size="8.2" text-anchor="middle" font-weight="bold" font-style="normal" fill="#000" color="#000" style="stroke-width:0.3px">C</text>
<text x="496.64" y="126.45" font-size="5.7" text-anchor="middle" textLength="3.42" lengthAdjust="spacingAndGlyphs">O</text>
<text x="504.78" y="126.45" font-size="5.7" text-anchor="middle" textLength="3.42" lengthAdjust="spacingAndGlyphs">S</text>
<line x1="506.68" y1="123.00" x2="507.98" y2="123.00" stroke="#222" stroke-width="0.45"/>
<text x="500.56" y="132.65" font-size="5.7" text-anchor="middle" textLength="3.42" lengthAdjust="spacingAndGlyphs">P</text>
<text x="495.84" y="139.05" font-size="5.7" text-anchor="middle" textLength="3.42" lengthAdjust="spacingAndGlyphs">O</text>
<text x="504.78" y="139.05" font-size="5.7" text-anchor="middle" textLength="3.42" lengthAdjust="spacingAndGlyphs">O</text>
<line x1="497.54" y1="126.30" x2="499.86" y2="128.90" stroke="#222" stroke-width="0.42"/>
<line x1="503.68" y1="126.30" x2="501.26" y2="128.90" stroke="#222" stroke-width="0.42"/>
<line x1="499.76" y1="132.30" x2="496.94" y2="135.00" stroke="#222" stroke-width="0.42"/>
<line x1="501.36" y1="132.30" x2="503.88" y2="135.00" stroke="#222" stroke-width="0.42"/>
<line x1="496.04" y1="139.20" x2="496.04" y2="144.60" stroke="#222" stroke-width="0.55"/>
<line x1="504.78" y1="139.20" x2="504.78" y2="144.60" stroke="#222" stroke-width="0.55"/>
<rect x="538.20" y="144.8" width="52.0" height="5.6" fill="#8FA9C1"/>
<rect x="538.20" y="164.9" width="52.0" height="6.0" fill="#3D79C8"/>
<rect x="541.60" y="150.3" width="3.2" height="6.1" fill="#8FA9C1"/>
<rect x="541.60" y="158.1" width="3.2" height="6.9" fill="#3D79C8"/>
<rect x="550.04" y="150.3" width="3.2" height="6.1" fill="#8FA9C1"/>
<rect x="550.04" y="158.1" width="3.2" height="6.9" fill="#3D79C8"/>
<rect x="558.48" y="150.3" width="3.2" height="6.1" fill="#8FA9C1"/>
<rect x="558.48" y="158.1" width="3.2" height="6.9" fill="#3D79C8"/>
<rect x="566.92" y="150.3" width="3.2" height="6.1" fill="#8FA9C1"/>
<rect x="566.92" y="158.1" width="3.2" height="6.9" fill="#3D79C8"/>
<rect x="575.36" y="150.3" width="3.2" height="6.1" fill="#8FA9C1"/>
<rect x="575.36" y="158.1" width="3.2" height="6.9" fill="#3D79C8"/>
<rect x="583.80" y="150.3" width="3.2" height="6.1" fill="#8FA9C1"/>
<rect x="583.80" y="158.1" width="3.2" height="6.9" fill="#3D79C8"/>
<text x="551.64" y="150.50" font-size="8.2" text-anchor="middle" font-weight="bold" font-style="normal" fill="#000" color="#000" style="stroke-width:0.3px">G</text>
<text x="560.08" y="150.50" font-size="8.2" text-anchor="middle" font-weight="bold" font-style="normal" fill="#000" color="#000" style="stroke-width:0.3px">C</text>
<text x="568.52" y="150.50" font-size="8.2" text-anchor="middle" font-weight="bold" font-style="normal" fill="#000" color="#000" style="stroke-width:0.3px">T</text>
<text x="576.96" y="150.50" font-size="8.2" text-anchor="middle" font-weight="bold" font-style="normal" fill="#000" color="#000" style="stroke-width:0.3px">C</text>
<text x="551.94" y="126.45" font-size="5.7" text-anchor="middle" textLength="3.42" lengthAdjust="spacingAndGlyphs">O</text>
<text x="560.08" y="126.45" font-size="5.7" text-anchor="middle" textLength="3.42" lengthAdjust="spacingAndGlyphs">S</text>
<line x1="561.98" y1="123.00" x2="563.28" y2="123.00" stroke="#222" stroke-width="0.45"/>
<text x="555.86" y="132.65" font-size="5.7" text-anchor="middle" textLength="3.42" lengthAdjust="spacingAndGlyphs">P</text>
<text x="551.14" y="139.05" font-size="5.7" text-anchor="middle" textLength="3.42" lengthAdjust="spacingAndGlyphs">O</text>
<text x="560.08" y="139.05" font-size="5.7" text-anchor="middle" textLength="3.42" lengthAdjust="spacingAndGlyphs">O</text>
<line x1="552.84" y1="126.30" x2="555.16" y2="128.90" stroke="#222" stroke-width="0.42"/>
<line x1="558.98" y1="126.30" x2="556.56" y2="128.90" stroke="#222" stroke-width="0.42"/>
<line x1="555.06" y1="132.30" x2="552.24" y2="135.00" stroke="#222" stroke-width="0.42"/>
<line x1="556.66" y1="132.30" x2="559.18" y2="135.00" stroke="#222" stroke-width="0.42"/>
<line x1="551.34" y1="139.20" x2="551.34" y2="144.60" stroke="#222" stroke-width="0.55"/>
<line x1="560.08" y1="139.20" x2="560.08" y2="144.60" stroke="#222" stroke-width="0.55"/>
<rect x="594.10" y="144.8" width="52.0" height="5.6" fill="#8FA9C1"/>
<rect x="594.10" y="164.9" width="52.0" height="6.0" fill="#3D79C8"/>
<rect x="597.50" y="150.3" width="3.2" height="6.1" fill="#8FA9C1"/>
<rect x="597.50" y="158.1" width="3.2" height="6.9" fill="#3D79C8"/>
<rect x="605.94" y="150.3" width="3.2" height="6.1" fill="#8FA9C1"/>
<rect x="605.94" y="158.1" width="3.2" height="6.9" fill="#3D79C8"/>
<rect x="614.38" y="150.3" width="3.2" height="6.1" fill="#8FA9C1"/>
<rect x="614.38" y="158.1" width="3.2" height="6.9" fill="#3D79C8"/>
<rect x="622.82" y="150.3" width="3.2" height="6.1" fill="#8FA9C1"/>
<rect x="622.82" y="158.1" width="3.2" height="6.9" fill="#3D79C8"/>
<rect x="631.26" y="150.3" width="3.2" height="6.1" fill="#8FA9C1"/>
<rect x="631.26" y="158.1" width="3.2" height="6.9" fill="#3D79C8"/>
<rect x="639.70" y="150.3" width="3.2" height="6.1" fill="#8FA9C1"/>
<rect x="639.70" y="158.1" width="3.2" height="6.9" fill="#3D79C8"/>
<text x="607.54" y="150.50" font-size="8.2" text-anchor="middle" font-weight="bold" font-style="normal" fill="#000" color="#000" style="stroke-width:0.3px">G</text>
<text x="615.98" y="150.50" font-size="8.2" text-anchor="middle" font-weight="bold" font-style="normal" fill="#000" color="#000" style="stroke-width:0.3px">A</text>
<text x="624.42" y="150.50" font-size="8.2" text-anchor="middle" font-weight="bold" font-style="normal" fill="#000" color="#000" style="stroke-width:0.3px">G</text>
<text x="632.86" y="150.50" font-size="8.2" text-anchor="middle" font-weight="bold" font-style="normal" fill="#000" color="#000" style="stroke-width:0.3px">C</text>
<text x="607.84" y="126.45" font-size="5.7" text-anchor="middle" textLength="3.42" lengthAdjust="spacingAndGlyphs">O</text>
<text x="615.98" y="126.45" font-size="5.7" text-anchor="middle" textLength="3.42" lengthAdjust="spacingAndGlyphs">S</text>
<line x1="617.88" y1="123.00" x2="619.18" y2="123.00" stroke="#222" stroke-width="0.45"/>
<text x="611.76" y="132.65" font-size="5.7" text-anchor="middle" textLength="3.42" lengthAdjust="spacingAndGlyphs">P</text>
<text x="607.04" y="139.05" font-size="5.7" text-anchor="middle" textLength="3.42" lengthAdjust="spacingAndGlyphs">O</text>
<text x="615.98" y="139.05" font-size="5.7" text-anchor="middle" textLength="3.42" lengthAdjust="spacingAndGlyphs">O</text>
<line x1="608.74" y1="126.30" x2="611.06" y2="128.90" stroke="#222" stroke-width="0.42"/>
<line x1="614.88" y1="126.30" x2="612.46" y2="128.90" stroke="#222" stroke-width="0.42"/>
<line x1="610.96" y1="132.30" x2="608.14" y2="135.00" stroke="#222" stroke-width="0.42"/>
<line x1="612.56" y1="132.30" x2="615.08" y2="135.00" stroke="#222" stroke-width="0.42"/>
<line x1="607.24" y1="139.20" x2="607.24" y2="144.60" stroke="#222" stroke-width="0.55"/>
<line x1="615.98" y1="139.20" x2="615.98" y2="144.60" stroke="#222" stroke-width="0.55"/>
<text x="607.54" y="170.80" font-size="8.2" text-anchor="middle" font-weight="bold" font-style="normal" fill="#000" color="#000" style="stroke-width:0.3px">C</text>
<text x="615.98" y="170.80" font-size="8.2" text-anchor="middle" font-weight="bold" font-style="normal" fill="#000" color="#000" style="stroke-width:0.3px">T</text>
<text x="624.42" y="170.80" font-size="8.2" text-anchor="middle" font-weight="bold" font-style="normal" fill="#000" color="#000" style="stroke-width:0.3px">C</text>
<text x="632.86" y="170.80" font-size="8.2" text-anchor="middle" font-weight="bold" font-style="normal" fill="#000" color="#000" style="stroke-width:0.3px">G</text>
<text x="623.92" y="179.05" font-size="5.7" text-anchor="middle" textLength="3.42" lengthAdjust="spacingAndGlyphs">O</text>
<text x="632.86" y="179.05" font-size="5.7" text-anchor="middle" textLength="3.42" lengthAdjust="spacingAndGlyphs">O</text>
<text x="628.64" y="185.55" font-size="5.7" text-anchor="middle" textLength="3.42" lengthAdjust="spacingAndGlyphs">P</text>
<text x="624.72" y="192.05" font-size="5.7" text-anchor="middle" textLength="3.42" lengthAdjust="spacingAndGlyphs">S</text>
<line x1="626.62" y1="188.30" x2="627.82" y2="188.30" stroke="#222" stroke-width="0.45"/>
<text x="632.26" y="192.05" font-size="5.7" text-anchor="middle" textLength="3.42" lengthAdjust="spacingAndGlyphs">O</text>
<line x1="624.12" y1="170.90" x2="624.12" y2="174.90" stroke="#222" stroke-width="0.55"/>
<line x1="632.86" y1="170.90" x2="632.86" y2="174.90" stroke="#222" stroke-width="0.55"/>
<line x1="625.22" y1="179.00" x2="628.04" y2="181.80" stroke="#222" stroke-width="0.42"/>
<line x1="631.86" y1="179.00" x2="629.24" y2="181.80" stroke="#222" stroke-width="0.42"/>
<line x1="628.04" y1="185.30" x2="625.42" y2="187.90" stroke="#222" stroke-width="0.42"/>
<line x1="629.24" y1="185.30" x2="631.46" y2="187.90" stroke="#222" stroke-width="0.42"/>
<text x="1.90" y="213.80" font-size="12.2" text-anchor="start" font-weight="bold" font-style="normal" fill="#000" color="#000" >B</text>
<polygon points="51.70,283.30 51.70,238.17 52.17,236.65 52.63,236.26 53.10,233.00 53.57,233.80 54.03,232.29 54.50,229.89 54.97,229.31 55.43,230.29 55.90,233.10 56.36,234.29 56.83,234.85 57.30,234.03 57.76,233.67 58.23,236.47 58.70,237.25 59.16,233.51 59.63,239.11 60.10,234.76 60.56,233.19 61.03,236.86 61.50,237.19 61.96,236.28 62.43,232.62 62.89,234.64 63.36,239.16 63.83,235.40 64.29,231.66 64.76,231.74 65.23,232.66 65.69,234.92 66.16,239.10 66.63,233.86 67.09,234.76 67.56,234.10 68.03,230.29 68.49,233.82 68.96,233.58 69.42,232.73 69.89,234.97 70.36,236.03 70.82,236.22 71.29,232.31 71.76,232.99 72.22,235.57 72.69,231.30 73.16,233.82 73.62,237.78 74.09,232.72 74.56,234.66 75.02,237.75 75.49,232.96 75.96,235.20 76.42,235.32 76.89,232.77 77.35,240.00 77.82,237.62 78.29,235.40 78.75,233.65 79.22,236.03 79.69,236.89 80.15,237.04 80.62,234.60 81.09,232.54 81.55,238.07 82.02,239.71 82.49,235.07 82.95,235.29 83.42,236.66 83.88,232.71 84.35,232.21 84.82,235.77 85.28,235.20 85.75,232.82 86.22,235.42 86.68,237.96 87.15,234.50 87.62,236.69 88.08,233.51 88.55,235.68 89.02,234.88 89.48,233.05 89.95,234.74 90.41,236.08 90.88,237.06 91.35,229.99 91.81,231.60 92.28,238.40 92.75,237.24 93.21,233.00 93.68,236.07 94.15,234.51 94.61,232.45 95.08,234.25 95.55,234.93 96.01,235.84 96.48,234.85 96.94,233.64 97.41,230.15 97.88,231.90 98.34,235.21 98.81,232.32 99.28,234.41 99.74,238.59 100.21,235.03 100.68,232.18 101.14,236.33 101.61,232.36 102.08,235.61 102.54,234.76 103.01,237.94 103.48,229.47 103.94,233.69 104.41,232.27 104.87,236.08 105.34,238.72 105.81,231.78 106.27,236.80 106.74,230.67 107.21,235.42 107.67,230.77 108.14,236.90 108.61,239.61 109.07,233.22 109.54,235.23 110.01,235.08 110.47,232.36 110.94,237.39 111.40,238.48 111.87,238.17 112.34,239.52 112.80,239.86 113.27,238.52 113.74,237.72 114.20,236.40 114.67,238.38 115.14,235.63 115.60,233.35 116.07,235.92 116.54,234.30 117.00,237.79 117.47,235.95 117.93,236.85 118.40,241.11 118.87,247.79 119.33,248.81 119.80,250.38 120.27,247.77 120.73,253.64 121.20,249.44 121.20,283.30" fill="#F1AEB4"/>
<polygon points="51.70,283.30 51.70,280.28 52.17,279.55 52.63,279.63 53.10,280.59 53.57,280.47 54.03,280.60 54.50,280.00 54.97,280.35 55.43,279.91 55.90,281.34 56.36,279.47 56.83,280.38 57.30,279.96 57.76,280.41 58.23,280.55 58.70,280.09 59.16,279.89 59.63,280.46 60.10,280.43 60.56,279.97 61.03,280.83 61.50,281.19 61.96,280.14 62.43,280.73 62.89,281.42 63.36,280.81 63.83,280.63 64.29,281.03 64.76,281.20 65.23,280.36 65.69,279.89 66.16,280.51 66.63,280.79 67.09,280.18 67.56,280.00 68.03,280.56 68.49,280.10 68.96,279.83 69.42,280.52 69.89,280.85 70.36,280.22 70.82,280.27 71.29,279.81 71.76,281.12 72.22,280.78 72.69,280.88 73.16,281.38 73.62,280.36 74.09,280.14 74.56,280.84 75.02,279.67 75.49,279.98 75.96,280.09 76.42,280.22 76.89,279.92 77.35,281.18 77.82,280.11 78.29,280.12 78.75,281.43 79.22,280.27 79.69,280.60 80.15,280.03 80.62,280.71 81.09,280.48 81.55,280.28 82.02,280.96 82.49,280.15 82.95,280.54 83.42,280.21 83.88,280.77 84.35,279.89 84.82,280.16 85.28,280.59 85.75,280.15 86.22,279.81 86.68,279.52 87.15,281.37 87.62,280.02 88.08,280.25 88.55,280.56 89.02,281.07 89.48,279.83 89.95,281.21 90.41,280.21 90.88,279.81 91.35,281.41 91.81,280.70 92.28,281.25 92.75,280.40 93.21,279.71 93.68,279.43 94.15,281.52 94.61,280.86 95.08,280.16 95.55,279.68 96.01,280.32 96.48,280.97 96.94,280.40 97.41,280.57 97.88,280.68 98.34,280.97 98.81,280.36 99.28,280.40 99.74,280.63 100.21,280.70 100.68,281.29 101.14,280.85 101.61,279.92 102.08,280.69 102.54,281.38 103.01,279.86 103.48,280.31 103.94,279.44 104.41,280.57 104.87,280.86 105.34,281.40 105.81,279.88 106.27,279.20 106.74,281.07 107.21,280.98 107.67,280.29 108.14,281.08 108.61,280.78 109.07,280.82 109.54,280.53 110.01,280.03 110.47,280.63 110.94,280.14 111.40,280.87 111.87,280.47 112.34,281.83 112.80,281.45 113.27,280.22 113.74,280.98 114.20,280.34 114.67,280.36 115.14,279.94 115.60,280.22 116.07,280.11 116.54,280.73 117.00,281.06 117.47,281.08 117.93,280.95 118.40,281.31 118.87,280.99 119.33,280.74 119.80,280.55 120.27,280.88 120.73,281.76 121.20,280.74 121.20,283.30" fill="#C67DBB"/>
<polyline points="51.76,262.77 53.12,257.65 54.26,261.64 57.11,263.34 59.39,261.07 61.66,251.96 63.37,257.08 65.65,264.48 66.79,262.20 68.50,253.66 70.20,258.22 71.34,257.08 73.05,262.77 75.33,259.93 77.04,257.08 78.18,261.07 79.88,259.36 82.16,260.50 83.87,258.79 86.15,257.65 87.85,260.50 90.13,269.61 91.84,258.79 92.98,257.08 94.12,248.54 95.82,262.20 98.10,254.23 99.81,260.50 101.52,266.76 103.23,259.93 104.93,261.07 106.64,259.36 108.35,266.19 110.06,263.34 111.77,263.91 114.04,266.19 116.32,267.33 118.03,264.48 119.17,270.18 120.88,278.15" fill="none" stroke="#111" stroke-width="1.0" stroke-linejoin="round"/>
<rect x="48.20" y="209.50" width="76.50" height="73.80" fill="none" stroke="#262626" stroke-width="0.85"/>
<line x1="51.70" y1="283.30" x2="51.70" y2="285.30" stroke="#262626" stroke-width="0.7"/>
<line x1="86.45" y1="283.30" x2="86.45" y2="285.30" stroke="#262626" stroke-width="0.7"/>
<line x1="121.20" y1="283.30" x2="121.20" y2="285.30" stroke="#262626" stroke-width="0.7"/>
<line x1="124.70" y1="282.30" x2="127.90" y2="282.30" stroke="#262626" stroke-width="0.7"/>
<line x1="124.70" y1="267.74" x2="127.90" y2="267.74" stroke="#262626" stroke-width="0.7"/>
<line x1="124.70" y1="253.18" x2="127.90" y2="253.18" stroke="#262626" stroke-width="0.7"/>
<line x1="124.70" y1="238.62" x2="127.90" y2="238.62" stroke="#262626" stroke-width="0.7"/>
<line x1="124.70" y1="224.06" x2="127.90" y2="224.06" stroke="#262626" stroke-width="0.7"/>
<line x1="124.70" y1="209.50" x2="127.90" y2="209.50" stroke="#262626" stroke-width="0.7"/>
<polygon points="140.90,283.30 140.90,212.22 141.36,215.11 141.83,218.32 142.29,221.09 142.75,223.63 143.22,219.02 143.68,222.10 144.14,223.03 144.60,221.96 145.07,222.24 145.53,229.23 145.99,221.01 146.46,230.00 146.92,219.46 147.38,223.34 147.85,226.65 148.31,221.91 148.77,225.95 149.24,224.41 149.70,226.38 150.16,223.94 150.62,224.37 151.09,230.22 151.55,229.73 152.01,227.39 152.48,229.28 152.94,235.42 153.40,223.63 153.87,235.44 154.33,235.22 154.79,233.01 155.26,227.89 155.72,224.49 156.18,230.22 156.64,230.70 157.11,229.16 157.57,230.71 158.03,229.50 158.50,232.96 158.96,228.58 159.42,228.75 159.89,236.71 160.35,230.25 160.81,229.52 161.28,228.45 161.74,232.35 162.20,233.82 162.67,232.81 163.13,228.65 163.59,232.62 164.05,232.41 164.52,227.11 164.98,232.56 165.44,232.91 165.91,230.70 166.37,229.93 166.83,227.62 167.30,233.03 167.76,235.00 168.22,230.99 168.69,228.89 169.15,234.88 169.61,232.14 170.07,229.96 170.54,230.21 171.00,230.67 171.46,231.66 171.93,233.22 172.39,233.63 172.85,227.83 173.32,234.24 173.78,227.71 174.24,234.88 174.71,223.11 175.17,236.15 175.63,226.82 176.09,233.84 176.56,231.67 177.02,231.54 177.48,233.20 177.95,225.15 178.41,231.14 178.87,235.12 179.34,229.63 179.80,229.46 180.26,234.69 180.73,229.99 181.19,231.32 181.65,229.23 182.11,229.55 182.58,231.58 183.04,232.72 183.50,229.04 183.97,230.73 184.43,235.80 184.89,233.17 185.36,233.01 185.82,232.41 186.28,225.30 186.75,232.77 187.21,230.39 187.67,227.11 188.13,230.35 188.60,230.57 189.06,228.16 189.52,231.26 189.99,231.31 190.45,229.92 190.91,230.71 191.38,233.78 191.84,235.16 192.30,232.23 192.77,228.01 193.23,232.58 193.69,228.75 194.16,230.82 194.62,232.86 195.08,239.39 195.54,231.41 196.01,232.82 196.47,236.54 196.93,230.64 197.40,232.17 197.86,231.06 198.32,233.82 198.79,231.58 199.25,233.49 199.71,229.20 200.18,231.85 200.64,236.14 201.10,231.63 201.56,232.06 202.03,232.83 202.49,236.06 202.95,229.33 203.42,234.85 203.88,228.93 204.34,235.77 204.81,234.39 205.27,235.17 205.73,235.18 206.20,228.76 206.66,238.11 207.12,231.48 207.58,236.20 208.05,240.56 208.51,235.77 208.97,237.60 209.44,237.96 209.90,245.04 209.90,283.30" fill="#F1AEB4"/>
<polygon points="140.90,283.30 140.90,280.26 141.36,280.68 141.83,279.60 142.29,280.66 142.75,278.79 143.22,279.45 143.68,280.22 144.14,279.66 144.60,279.03 145.07,278.30 145.53,280.55 145.99,279.36 146.46,279.69 146.92,280.17 147.38,279.34 147.85,279.70 148.31,279.35 148.77,280.32 149.24,280.00 149.70,279.76 150.16,279.99 150.62,279.99 151.09,280.46 151.55,279.92 152.01,279.89 152.48,280.04 152.94,280.01 153.40,279.58 153.87,280.40 154.33,279.58 154.79,280.09 155.26,279.97 155.72,280.11 156.18,279.46 156.64,279.54 157.11,280.00 157.57,280.26 158.03,278.89 158.50,279.68 158.96,280.69 159.42,280.00 159.89,280.07 160.35,279.57 160.81,280.14 161.28,280.44 161.74,279.20 162.20,281.20 162.67,280.85 163.13,280.31 163.59,280.31 164.05,280.08 164.52,280.01 164.98,279.40 165.44,280.91 165.91,278.21 166.37,279.63 166.83,280.46 167.30,280.34 167.76,280.29 168.22,281.34 168.69,279.76 169.15,280.67 169.61,280.33 170.07,280.66 170.54,280.36 171.00,279.99 171.46,280.77 171.93,279.09 172.39,280.77 172.85,280.30 173.32,280.02 173.78,279.63 174.24,279.87 174.71,279.98 175.17,279.71 175.63,279.78 176.09,280.59 176.56,279.66 177.02,280.40 177.48,280.70 177.95,280.07 178.41,280.32 178.87,279.87 179.34,279.84 179.80,280.38 180.26,279.83 180.73,280.06 181.19,281.00 181.65,279.09 182.11,280.03 182.58,280.12 183.04,279.51 183.50,280.87 183.97,280.44 184.43,279.47 184.89,281.18 185.36,280.54 185.82,279.04 186.28,279.67 186.75,280.62 187.21,280.00 187.67,279.58 188.13,280.50 188.60,280.02 189.06,279.82 189.52,280.00 189.99,279.11 190.45,279.96 190.91,280.12 191.38,279.89 191.84,280.25 192.30,280.51 192.77,280.16 193.23,280.41 193.69,278.91 194.16,278.73 194.62,280.24 195.08,281.69 195.54,280.23 196.01,279.61 196.47,280.39 196.93,279.60 197.40,279.63 197.86,280.38 198.32,280.15 198.79,280.60 199.25,280.26 199.71,280.67 200.18,280.32 200.64,279.12 201.10,280.19 201.56,279.35 202.03,279.81 202.49,280.90 202.95,280.06 203.42,280.28 203.88,280.74 204.34,280.28 204.81,279.27 205.27,279.27 205.73,280.25 206.20,280.43 206.66,280.03 207.12,279.80 207.58,279.22 208.05,280.35 208.51,280.57 208.97,280.04 209.44,281.19 209.90,280.08 209.90,283.30" fill="#C67DBB"/>
<polyline points="141.33,269.04 142.12,263.91 143.26,266.19 144.40,267.33 145.54,260.50 146.68,262.77 148.39,262.20 150.09,261.07 151.23,259.93 152.37,262.20 153.85,254.23 154.99,260.50 156.36,259.93 158.07,262.77 159.77,257.08 160.91,258.79 162.28,267.90 163.76,257.65 165.24,259.36 166.61,256.51 168.31,258.22 170.02,259.93 171.16,257.08 172.53,252.53 173.67,263.91 175.15,258.79 176.85,259.36 178.22,255.94 179.70,257.65 181.41,258.22 183.12,259.93 184.82,255.37 186.53,258.79 187.67,261.07 189.38,257.08 191.09,261.07 192.80,265.62 194.50,256.51 195.98,264.48 197.35,261.64 199.06,263.34 200.77,258.79 202.47,259.36 203.61,256.51 204.75,264.48 205.89,262.20 207.60,255.37 208.74,259.93 210.45,273.59" fill="none" stroke="#111" stroke-width="1.0" stroke-linejoin="round"/>
<rect x="137.40" y="209.50" width="76.00" height="73.80" fill="none" stroke="#262626" stroke-width="0.85"/>
<line x1="140.90" y1="283.30" x2="140.90" y2="285.30" stroke="#262626" stroke-width="0.7"/>
<line x1="175.40" y1="283.30" x2="175.40" y2="285.30" stroke="#262626" stroke-width="0.7"/>
<line x1="209.90" y1="283.30" x2="209.90" y2="285.30" stroke="#262626" stroke-width="0.7"/>
<line x1="213.40" y1="282.30" x2="216.60" y2="282.30" stroke="#262626" stroke-width="0.7"/>
<line x1="213.40" y1="267.74" x2="216.60" y2="267.74" stroke="#262626" stroke-width="0.7"/>
<line x1="213.40" y1="253.18" x2="216.60" y2="253.18" stroke="#262626" stroke-width="0.7"/>
<line x1="213.40" y1="238.62" x2="216.60" y2="238.62" stroke="#262626" stroke-width="0.7"/>
<line x1="213.40" y1="224.06" x2="216.60" y2="224.06" stroke="#262626" stroke-width="0.7"/>
<line x1="213.40" y1="209.50" x2="216.60" y2="209.50" stroke="#262626" stroke-width="0.7"/>
<line x1="140.90" y1="283.30" x2="203.90" y2="283.30" stroke="#000" stroke-width="2.3"/>
<polygon points="201.90,280.50 210.20,283.30 201.90,285.90" fill="#000"/>
<polygon points="229.80,283.30 229.80,236.52 230.27,237.16 230.73,239.19 231.20,234.28 231.67,232.53 232.13,230.03 232.60,225.60 233.07,230.18 233.53,223.22 234.00,228.42 234.46,225.12 234.93,221.43 235.40,221.47 235.86,225.66 236.33,219.16 236.80,223.48 237.26,227.57 237.73,225.17 238.20,228.01 238.66,224.86 239.13,230.22 239.60,225.51 240.06,232.20 240.53,224.57 240.99,227.27 241.46,224.62 241.93,230.80 242.39,235.07 242.86,233.43 243.33,230.67 243.79,224.81 244.26,228.75 244.73,226.73 245.19,232.90 245.66,231.98 246.13,231.46 246.59,227.30 247.06,232.20 247.52,231.48 247.99,226.17 248.46,233.20 248.92,230.89 249.39,234.61 249.86,231.55 250.32,228.61 250.79,227.64 251.26,234.92 251.72,238.14 252.19,229.61 252.66,226.49 253.12,233.17 253.59,230.51 254.06,231.22 254.52,237.38 254.99,238.86 255.45,231.62 255.92,230.11 256.39,235.76 256.85,232.48 257.32,233.83 257.79,234.35 258.25,235.31 258.72,228.46 259.19,231.76 259.65,232.48 260.12,233.25 260.59,230.86 261.05,233.40 261.52,231.59 261.98,234.25 262.45,231.17 262.92,233.06 263.38,230.68 263.85,236.71 264.32,234.61 264.78,235.88 265.25,228.04 265.72,234.16 266.18,232.65 266.65,237.30 267.12,235.16 267.58,237.30 268.05,232.85 268.51,235.26 268.98,228.27 269.45,235.04 269.91,229.77 270.38,232.98 270.85,231.15 271.31,235.16 271.78,232.73 272.25,233.04 272.71,234.80 273.18,231.04 273.65,236.78 274.11,233.08 274.58,233.16 275.04,232.35 275.51,235.82 275.98,230.73 276.44,235.11 276.91,234.27 277.38,235.28 277.84,233.67 278.31,231.53 278.78,224.46 279.24,240.00 279.71,230.02 280.18,230.09 280.64,228.44 281.11,231.83 281.58,231.23 282.04,227.50 282.51,232.21 282.97,231.98 283.44,232.49 283.91,231.22 284.37,227.49 284.84,234.95 285.31,229.16 285.77,238.94 286.24,231.14 286.71,233.63 287.17,228.87 287.64,230.19 288.11,230.25 288.57,230.85 289.04,231.52 289.50,238.15 289.97,231.64 290.44,236.28 290.90,229.53 291.37,234.36 291.84,232.48 292.30,233.91 292.77,232.31 293.24,232.00 293.70,231.10 294.17,236.03 294.64,228.20 295.10,235.58 295.57,233.07 296.03,240.16 296.50,231.78 296.97,229.88 297.43,229.24 297.90,231.16 298.37,231.26 298.83,234.48 299.30,233.75 299.30,283.30" fill="#F1AEB4"/>
<polygon points="229.80,283.30 229.80,280.51 230.27,280.70 230.73,280.99 231.20,281.95 231.67,280.68 232.13,280.18 232.60,280.12 233.07,280.99 233.53,279.46 234.00,279.62 234.46,280.81 234.93,280.77 235.40,280.16 235.86,280.82 236.33,280.56 236.80,280.01 237.26,280.02 237.73,280.97 238.20,280.93 238.66,280.98 239.13,280.68 239.60,280.63 240.06,280.88 240.53,280.24 240.99,280.64 241.46,280.66 241.93,281.75 242.39,281.43 242.86,281.04 243.33,280.46 243.79,281.14 244.26,279.80 244.73,280.58 245.19,280.51 245.66,280.59 246.13,280.38 246.59,280.14 247.06,280.95 247.52,279.79 247.99,281.08 248.46,280.36 248.92,280.76 249.39,280.74 249.86,280.27 250.32,280.53 250.79,279.76 251.26,280.92 251.72,280.35 252.19,280.31 252.66,279.47 253.12,279.75 253.59,280.24 254.06,279.71 254.52,280.16 254.99,281.06 255.45,280.44 255.92,279.95 256.39,280.91 256.85,279.78 257.32,280.43 257.79,280.97 258.25,280.36 258.72,281.48 259.19,280.99 259.65,281.19 260.12,280.34 260.59,281.17 261.05,281.47 261.52,280.44 261.98,280.87 262.45,281.00 262.92,280.93 263.38,280.03 263.85,280.51 264.32,281.01 264.78,279.06 265.25,280.33 265.72,279.54 266.18,280.02 266.65,279.84 267.12,281.07 267.58,280.91 268.05,280.24 268.51,280.63 268.98,280.54 269.45,279.99 269.91,281.85 270.38,280.77 270.85,279.74 271.31,280.84 271.78,280.56 272.25,280.37 272.71,280.40 273.18,280.40 273.65,281.09 274.11,280.39 274.58,280.90 275.04,279.70 275.51,280.91 275.98,280.43 276.44,280.68 276.91,279.94 277.38,280.50 277.84,280.17 278.31,280.87 278.78,280.77 279.24,281.08 279.71,280.65 280.18,280.71 280.64,281.18 281.11,281.24 281.58,280.46 282.04,280.64 282.51,280.94 282.97,281.05 283.44,281.15 283.91,280.49 284.37,280.84 284.84,280.89 285.31,280.85 285.77,280.80 286.24,280.71 286.71,280.49 287.17,281.50 287.64,280.68 288.11,281.19 288.57,280.74 289.04,279.84 289.50,281.58 289.97,281.24 290.44,280.81 290.90,281.79 291.37,279.21 291.84,280.87 292.30,279.63 292.77,280.57 293.24,279.87 293.70,280.07 294.17,280.68 294.64,280.24 295.10,280.88 295.57,280.78 296.03,279.69 296.50,280.99 296.97,281.01 297.43,279.10 297.90,280.72 298.37,280.34 298.83,279.60 299.30,280.77 299.30,283.30" fill="#C67DBB"/>
<polyline points="230.33,260.62 231.69,252.08 232.60,259.48 233.40,265.18 234.54,256.64 236.25,259.48 237.39,257.77 239.09,258.34 240.80,259.48 242.51,262.33 243.65,258.34 244.79,256.07 246.50,255.50 248.20,252.65 249.34,252.08 250.48,253.79 251.62,257.77 252.76,261.19 254.47,252.08 256.18,252.65 257.88,251.51 259.02,253.79 259.93,246.39 261.30,248.66 262.44,254.36 264.15,253.79 265.85,252.65 266.99,253.79 268.36,252.08 269.50,247.53 270.64,254.93 272.12,258.34 273.82,255.50 276.10,253.22 277.81,252.08 279.52,252.65 281.23,254.93 282.36,260.05 283.50,255.50 285.21,253.22 286.92,255.50 288.06,256.64 289.20,252.08 290.68,249.23 292.04,253.79 293.75,253.22 295.46,254.93 297.17,258.34 298.31,257.77 299.45,256.07" fill="none" stroke="#111" stroke-width="1.0" stroke-linejoin="round"/>
<rect x="226.30" y="209.50" width="76.50" height="73.80" fill="none" stroke="#262626" stroke-width="0.85"/>
<line x1="229.80" y1="283.30" x2="229.80" y2="285.30" stroke="#262626" stroke-width="0.7"/>
<line x1="264.55" y1="283.30" x2="264.55" y2="285.30" stroke="#262626" stroke-width="0.7"/>
<line x1="299.30" y1="283.30" x2="299.30" y2="285.30" stroke="#262626" stroke-width="0.7"/>
<line x1="302.80" y1="282.30" x2="306.00" y2="282.30" stroke="#262626" stroke-width="0.7"/>
<line x1="302.80" y1="267.74" x2="306.00" y2="267.74" stroke="#262626" stroke-width="0.7"/>
<line x1="302.80" y1="253.18" x2="306.00" y2="253.18" stroke="#262626" stroke-width="0.7"/>
<line x1="302.80" y1="238.62" x2="306.00" y2="238.62" stroke="#262626" stroke-width="0.7"/>
<line x1="302.80" y1="224.06" x2="306.00" y2="224.06" stroke="#262626" stroke-width="0.7"/>
<line x1="302.80" y1="209.50" x2="306.00" y2="209.50" stroke="#262626" stroke-width="0.7"/>
<polygon points="51.70,369.40 51.70,317.39 52.17,315.74 52.63,314.88 53.10,318.83 53.57,314.48 54.03,315.76 54.50,314.44 54.97,315.72 55.43,313.49 55.90,318.74 56.36,311.96 56.83,313.39 57.30,317.90 57.76,314.75 58.23,315.29 58.70,320.76 59.16,314.91 59.63,317.86 60.10,317.03 60.56,317.91 61.03,317.47 61.50,316.22 61.96,316.16 62.43,320.30 62.89,317.07 63.36,319.76 63.83,319.58 64.29,317.27 64.76,314.26 65.23,314.82 65.69,317.91 66.16,318.18 66.63,318.47 67.09,316.04 67.56,314.06 68.03,316.35 68.49,314.67 68.96,315.61 69.42,312.64 69.89,321.42 70.36,321.73 70.82,316.90 71.29,314.81 71.76,317.43 72.22,315.34 72.69,319.33 73.16,319.55 73.62,318.19 74.09,314.30 74.56,314.66 75.02,318.18 75.49,315.95 75.96,318.02 76.42,316.35 76.89,319.19 77.35,316.52 77.82,318.24 78.29,316.51 78.75,318.03 79.22,318.45 79.69,316.12 80.15,317.24 80.62,316.35 81.09,317.45 81.55,314.87 82.02,318.44 82.49,314.48 82.95,313.07 83.42,317.07 83.88,312.04 84.35,311.33 84.82,315.29 85.28,319.79 85.75,320.44 86.22,316.84 86.68,311.97 87.15,314.99 87.62,314.54 88.08,317.08 88.55,318.33 89.02,315.55 89.48,319.27 89.95,317.00 90.41,315.25 90.88,316.45 91.35,315.25 91.81,317.69 92.28,315.09 92.75,315.59 93.21,320.74 93.68,319.24 94.15,318.45 94.61,315.02 95.08,315.92 95.55,315.98 96.01,316.27 96.48,315.13 96.94,314.37 97.41,318.14 97.88,320.74 98.34,315.11 98.81,317.32 99.28,316.69 99.74,317.26 100.21,319.62 100.68,320.63 101.14,314.46 101.61,314.15 102.08,314.57 102.54,316.39 103.01,316.26 103.48,317.99 103.94,316.79 104.41,317.98 104.87,318.35 105.34,316.49 105.81,312.77 106.27,321.74 106.74,315.54 107.21,315.37 107.67,320.11 108.14,316.31 108.61,316.85 109.07,318.28 109.54,318.38 110.01,320.67 110.47,312.90 110.94,311.31 111.40,313.23 111.87,317.93 112.34,316.51 112.80,316.30 113.27,319.29 113.74,317.92 114.20,315.95 114.67,318.36 115.14,321.72 115.60,320.50 116.07,316.71 116.54,318.20 117.00,318.12 117.47,314.00 117.93,319.60 118.40,326.98 118.87,329.81 119.33,325.40 119.80,334.76 120.27,328.63 120.73,330.65 121.20,335.80 121.20,369.40" fill="#F1AEB4"/>
<polygon points="51.70,369.40 51.70,365.05 52.17,365.15 52.63,365.62 53.10,365.22 53.57,366.00 54.03,366.71 54.50,364.61 54.97,365.33 55.43,366.86 55.90,366.26 56.36,366.00 56.83,365.42 57.30,364.84 57.76,365.45 58.23,365.90 58.70,365.36 59.16,365.78 59.63,365.54 60.10,366.05 60.56,366.38 61.03,364.88 61.50,365.85 61.96,365.59 62.43,366.02 62.89,365.99 63.36,365.88 63.83,365.28 64.29,364.94 64.76,365.35 65.23,366.01 65.69,364.00 66.16,365.18 66.63,365.12 67.09,366.02 67.56,365.84 68.03,365.33 68.49,366.74 68.96,366.16 69.42,365.46 69.89,364.25 70.36,365.45 70.82,366.33 71.29,366.44 71.76,365.13 72.22,366.21 72.69,365.93 73.16,364.55 73.62,365.69 74.09,365.94 74.56,366.20 75.02,364.94 75.49,364.95 75.96,366.14 76.42,366.59 76.89,365.82 77.35,364.92 77.82,365.48 78.29,366.48 78.75,365.55 79.22,365.30 79.69,365.78 80.15,365.66 80.62,365.77 81.09,366.07 81.55,366.17 82.02,366.60 82.49,366.50 82.95,366.82 83.42,365.52 83.88,365.50 84.35,365.76 84.82,365.54 85.28,365.77 85.75,366.26 86.22,365.70 86.68,366.01 87.15,365.94 87.62,367.08 88.08,366.15 88.55,365.58 89.02,366.05 89.48,366.35 89.95,366.82 90.41,366.25 90.88,365.00 91.35,366.23 91.81,365.23 92.28,366.15 92.75,365.23 93.21,366.18 93.68,365.63 94.15,365.48 94.61,365.50 95.08,366.43 95.55,366.07 96.01,366.39 96.48,365.95 96.94,366.07 97.41,366.02 97.88,365.51 98.34,366.50 98.81,366.36 99.28,366.23 99.74,366.03 100.21,366.37 100.68,365.58 101.14,366.54 101.61,364.83 102.08,365.86 102.54,365.19 103.01,366.54 103.48,366.08 103.94,365.82 104.41,364.83 104.87,365.83 105.34,365.00 105.81,366.32 106.27,364.99 106.74,366.30 107.21,366.97 107.67,367.09 108.14,365.78 108.61,366.04 109.07,365.77 109.54,365.96 110.01,365.63 110.47,364.94 110.94,366.05 111.40,365.76 111.87,366.16 112.34,366.97 112.80,366.10 113.27,365.03 113.74,366.42 114.20,364.55 114.67,365.60 115.14,365.66 115.60,365.37 116.07,365.93 116.54,365.91 117.00,365.14 117.47,366.37 117.93,366.03 118.40,366.65 118.87,365.88 119.33,364.12 119.80,365.23 120.27,366.51 120.73,367.01 121.20,365.62 121.20,369.40" fill="#C67DBB"/>
<polyline points="51.76,344.93 52.55,343.22 53.69,346.64 54.83,345.50 55.97,347.20 57.11,344.93 58.25,346.07 59.39,348.34 60.53,340.94 61.44,336.96 62.23,343.79 63.37,344.93 64.51,351.19 65.65,343.22 66.79,347.20 67.93,340.37 68.72,338.66 69.64,344.36 70.77,342.08 71.91,346.07 73.05,343.22 73.62,348.34 74.76,343.22 75.90,344.36 77.04,347.20 78.18,343.22 79.31,347.77 80.45,344.93 81.59,347.20 82.73,343.79 83.87,346.07 84.67,339.80 85.58,337.53 86.49,347.20 87.63,344.36 88.76,350.62 89.56,353.47 90.70,343.22 91.84,340.37 92.41,343.22 93.55,336.39 94.46,342.08 95.60,349.48 96.74,346.64 97.87,338.66 98.67,348.91 99.81,344.36 100.95,352.33 102.09,344.93 103.23,346.07 104.36,348.34 105.50,344.93 106.64,351.76 107.78,353.47 108.92,348.91 110.06,350.62 111.20,349.48 112.34,351.19 113.47,352.90 114.61,350.05 115.75,354.61 116.89,351.76 118.03,349.48 119.17,350.62 120.31,357.45 121.45,360.30" fill="none" stroke="#111" stroke-width="1.0" stroke-linejoin="round"/>
<rect x="48.20" y="295.60" width="76.50" height="73.80" fill="none" stroke="#262626" stroke-width="0.85"/>
<line x1="51.70" y1="369.40" x2="51.70" y2="371.40" stroke="#262626" stroke-width="0.7"/>
<line x1="86.45" y1="369.40" x2="86.45" y2="371.40" stroke="#262626" stroke-width="0.7"/>
<line x1="121.20" y1="369.40" x2="121.20" y2="371.40" stroke="#262626" stroke-width="0.7"/>
<line x1="124.70" y1="368.40" x2="127.90" y2="368.40" stroke="#262626" stroke-width="0.7"/>
<line x1="124.70" y1="353.84" x2="127.90" y2="353.84" stroke="#262626" stroke-width="0.7"/>
<line x1="124.70" y1="339.28" x2="127.90" y2="339.28" stroke="#262626" stroke-width="0.7"/>
<line x1="124.70" y1="324.72" x2="127.90" y2="324.72" stroke="#262626" stroke-width="0.7"/>
<line x1="124.70" y1="310.16" x2="127.90" y2="310.16" stroke="#262626" stroke-width="0.7"/>
<line x1="124.70" y1="295.60" x2="127.90" y2="295.60" stroke="#262626" stroke-width="0.7"/>
<polygon points="140.90,369.40 140.90,307.79 141.36,310.05 141.83,308.71 142.29,306.20 142.75,306.25 143.22,302.55 143.68,308.26 144.14,302.10 144.60,303.12 145.07,299.15 145.53,299.26 145.99,300.21 146.46,303.83 146.92,303.80 147.38,302.12 147.85,303.78 148.31,307.32 148.77,306.22 149.24,301.81 149.70,305.34 150.16,303.55 150.62,302.84 151.09,306.34 151.55,303.93 152.01,299.63 152.48,299.55 152.94,301.78 153.40,301.76 153.87,303.66 154.33,302.98 154.79,301.12 155.26,306.94 155.72,304.24 156.18,304.05 156.64,301.21 157.11,305.86 157.57,298.56 158.03,305.10 158.50,298.27 158.96,303.44 159.42,303.08 159.89,299.30 160.35,307.79 160.81,301.73 161.28,299.23 161.74,305.80 162.20,301.64 162.67,305.00 163.13,301.41 163.59,304.43 164.05,300.91 164.52,304.78 164.98,304.96 165.44,304.47 165.91,306.18 166.37,300.24 166.83,302.17 167.30,300.70 167.76,301.16 168.22,300.48 168.69,306.66 169.15,303.09 169.61,304.36 170.07,303.98 170.54,304.02 171.00,307.95 171.46,307.73 171.93,309.71 172.39,301.47 172.85,304.40 173.32,306.41 173.78,304.13 174.24,306.46 174.71,306.81 175.17,305.49 175.63,305.25 176.09,306.85 176.56,307.55 177.02,304.48 177.48,298.11 177.95,305.11 178.41,301.35 178.87,301.69 179.34,305.51 179.80,309.19 180.26,306.33 180.73,304.19 181.19,302.03 181.65,304.52 182.11,306.13 182.58,300.09 183.04,304.25 183.50,304.79 183.97,303.44 184.43,309.36 184.89,302.32 185.36,309.67 185.82,306.20 186.28,309.70 186.75,307.25 187.21,302.60 187.67,300.68 188.13,302.43 188.60,303.21 189.06,309.39 189.52,298.98 189.99,304.90 190.45,302.44 190.91,302.44 191.38,302.55 191.84,307.67 192.30,304.64 192.77,302.80 193.23,307.00 193.69,304.08 194.16,305.54 194.62,309.39 195.08,304.45 195.54,305.07 196.01,300.76 196.47,304.92 196.93,301.76 197.40,303.78 197.86,301.62 198.32,309.50 198.79,304.07 199.25,306.46 199.71,303.07 200.18,305.51 200.64,304.72 201.10,304.74 201.56,303.24 202.03,306.01 202.49,303.36 202.95,304.16 203.42,304.59 203.88,306.21 204.34,301.77 204.81,303.38 205.27,303.65 205.73,301.30 206.20,305.43 206.66,303.54 207.12,305.43 207.58,302.31 208.05,303.47 208.51,305.75 208.97,304.65 209.44,304.17 209.90,306.98 209.90,369.40" fill="#F1AEB4"/>
<polygon points="140.90,369.40 140.90,364.58 141.36,364.41 141.83,364.48 142.29,365.17 142.75,365.37 143.22,364.38 143.68,364.33 144.14,363.37 144.60,365.01 145.07,364.35 145.53,364.50 145.99,364.76 146.46,365.45 146.92,365.58 147.38,363.35 147.85,364.94 148.31,363.30 148.77,364.16 149.24,365.02 149.70,364.33 150.16,365.60 150.62,364.93 151.09,364.61 151.55,364.41 152.01,364.95 152.48,365.28 152.94,364.72 153.40,364.55 153.87,364.86 154.33,364.71 154.79,363.98 155.26,363.75 155.72,363.75 156.18,365.11 156.64,364.86 157.11,364.22 157.57,364.36 158.03,363.59 158.50,364.63 158.96,364.00 159.42,364.92 159.89,365.02 160.35,364.83 160.81,363.87 161.28,365.81 161.74,365.02 162.20,365.39 162.67,364.75 163.13,364.12 163.59,364.29 164.05,364.31 164.52,365.52 164.98,364.40 165.44,363.71 165.91,364.42 166.37,363.80 166.83,365.41 167.30,364.47 167.76,363.97 168.22,364.72 168.69,365.44 169.15,365.59 169.61,365.28 170.07,364.73 170.54,365.40 171.00,365.12 171.46,365.51 171.93,365.15 172.39,364.84 172.85,364.89 173.32,364.72 173.78,364.42 174.24,364.02 174.71,364.60 175.17,365.75 175.63,364.26 176.09,365.07 176.56,364.30 177.02,364.85 177.48,364.21 177.95,364.44 178.41,365.31 178.87,363.90 179.34,365.07 179.80,364.87 180.26,364.08 180.73,365.16 181.19,364.58 181.65,363.95 182.11,364.37 182.58,364.38 183.04,363.71 183.50,364.00 183.97,364.63 184.43,364.91 184.89,364.95 185.36,364.76 185.82,363.60 186.28,365.21 186.75,364.28 187.21,365.26 187.67,363.89 188.13,364.12 188.60,363.48 189.06,365.26 189.52,364.43 189.99,364.20 190.45,365.46 190.91,364.90 191.38,365.14 191.84,364.24 192.30,365.23 192.77,364.92 193.23,364.63 193.69,364.44 194.16,365.12 194.62,365.33 195.08,364.94 195.54,364.34 196.01,364.28 196.47,364.00 196.93,364.88 197.40,363.63 197.86,365.94 198.32,366.21 198.79,364.92 199.25,365.01 199.71,364.68 200.18,364.55 200.64,364.37 201.10,363.84 201.56,365.04 202.03,364.45 202.49,364.62 202.95,364.78 203.42,364.83 203.88,364.03 204.34,365.60 204.81,364.86 205.27,364.14 205.73,365.20 206.20,365.05 206.66,365.20 207.12,365.22 207.58,366.11 208.05,364.24 208.51,365.29 208.97,364.58 209.44,364.70 209.90,365.09 209.90,369.40" fill="#C67DBB"/>
<polyline points="140.42,361.44 140.99,352.33 142.12,345.50 143.26,343.79 144.40,343.22 145.54,342.65 146.68,343.22 147.82,344.36 148.39,348.91 149.30,337.53 150.09,345.50 150.89,342.08 152.03,350.05 152.94,340.94 154.08,339.23 155.22,342.65 156.13,338.66 157.27,337.53 158.07,339.80 159.20,338.09 160.34,342.65 161.48,348.34 162.62,344.36 164.33,339.23 165.47,340.94 166.61,342.65 167.74,343.22 168.88,343.22 170.02,348.91 170.93,335.82 171.73,342.08 172.53,349.48 173.44,344.36 174.58,338.09 175.72,340.37 176.85,340.94 177.99,338.09 179.13,342.08 180.04,337.53 180.84,350.05 181.98,338.66 183.12,340.94 184.26,344.36 185.39,337.53 186.19,335.25 187.10,347.77 188.24,342.08 189.38,339.23 190.52,343.22 191.66,347.77 192.80,344.93 193.93,346.07 195.07,346.07 196.21,344.93 197.35,343.79 198.49,350.05 199.40,343.22 200.77,344.93 201.91,343.79 203.04,346.07 204.18,347.77 205.32,345.50 207.03,344.36 208.17,348.91 209.31,352.90 210.45,359.16" fill="none" stroke="#111" stroke-width="1.0" stroke-linejoin="round"/>
<rect x="137.40" y="295.60" width="76.00" height="73.80" fill="none" stroke="#262626" stroke-width="0.85"/>
<line x1="140.90" y1="369.40" x2="140.90" y2="371.40" stroke="#262626" stroke-width="0.7"/>
<line x1="175.40" y1="369.40" x2="175.40" y2="371.40" stroke="#262626" stroke-width="0.7"/>
<line x1="209.90" y1="369.40" x2="209.90" y2="371.40" stroke="#262626" stroke-width="0.7"/>
<line x1="213.40" y1="368.40" x2="216.60" y2="368.40" stroke="#262626" stroke-width="0.7"/>
<line x1="213.40" y1="353.84" x2="216.60" y2="353.84" stroke="#262626" stroke-width="0.7"/>
<line x1="213.40" y1="339.28" x2="216.60" y2="339.28" stroke="#262626" stroke-width="0.7"/>
<line x1="213.40" y1="324.72" x2="216.60" y2="324.72" stroke="#262626" stroke-width="0.7"/>
<line x1="213.40" y1="310.16" x2="216.60" y2="310.16" stroke="#262626" stroke-width="0.7"/>
<line x1="213.40" y1="295.60" x2="216.60" y2="295.60" stroke="#262626" stroke-width="0.7"/>
<line x1="140.90" y1="369.40" x2="203.90" y2="369.40" stroke="#000" stroke-width="2.3"/>
<polygon points="201.90,366.60 210.20,369.40 201.90,372.00" fill="#000"/>
<polygon points="229.80,369.40 229.80,317.45 230.27,317.82 230.73,316.06 231.20,314.42 231.67,316.69 232.13,315.73 232.60,315.10 233.07,314.72 233.53,318.34 234.00,315.20 234.46,316.31 234.93,317.64 235.40,317.80 235.86,316.75 236.33,318.50 236.80,319.55 237.26,316.04 237.73,314.39 238.20,316.71 238.66,314.44 239.13,317.05 239.60,318.41 240.06,319.61 240.53,317.98 240.99,312.74 241.46,316.59 241.93,320.23 242.39,316.04 242.86,316.91 243.33,317.10 243.79,317.47 244.26,317.93 244.73,316.82 245.19,320.13 245.66,318.58 246.13,316.69 246.59,314.16 247.06,314.85 247.52,311.63 247.99,313.09 248.46,320.14 248.92,314.64 249.39,313.58 249.86,315.30 250.32,320.08 250.79,316.63 251.26,317.67 251.72,314.92 252.19,313.11 252.66,314.26 253.12,318.11 253.59,313.90 254.06,315.69 254.52,313.41 254.99,316.37 255.45,315.22 255.92,315.81 256.39,316.18 256.85,312.19 257.32,313.60 257.79,314.67 258.25,318.82 258.72,317.22 259.19,315.58 259.65,314.27 260.12,319.54 260.59,313.69 261.05,318.18 261.52,318.39 261.98,313.18 262.45,316.97 262.92,314.80 263.38,313.28 263.85,314.18 264.32,318.09 264.78,316.93 265.25,317.00 265.72,314.71 266.18,314.83 266.65,313.05 267.12,314.42 267.58,313.38 268.05,316.03 268.51,316.32 268.98,319.12 269.45,317.09 269.91,319.47 270.38,317.48 270.85,312.09 271.31,314.99 271.78,315.40 272.25,315.77 272.71,316.67 273.18,315.70 273.65,313.15 274.11,317.94 274.58,317.00 275.04,317.63 275.51,316.30 275.98,309.46 276.44,311.15 276.91,310.91 277.38,318.50 277.84,318.72 278.31,313.29 278.78,317.59 279.24,314.73 279.71,318.64 280.18,312.81 280.64,315.72 281.11,316.35 281.58,308.86 282.04,315.01 282.51,317.90 282.97,317.57 283.44,312.61 283.91,317.67 284.37,311.89 284.84,318.31 285.31,315.12 285.77,318.35 286.24,313.23 286.71,312.90 287.17,314.60 287.64,316.34 288.11,317.22 288.57,316.22 289.04,318.76 289.50,317.62 289.97,312.80 290.44,316.94 290.90,315.77 291.37,312.47 291.84,314.90 292.30,315.59 292.77,313.17 293.24,314.53 293.70,314.71 294.17,315.14 294.64,312.24 295.10,311.68 295.57,321.07 296.03,311.05 296.50,313.72 296.97,316.30 297.43,313.49 297.90,318.92 298.37,314.82 298.83,312.74 299.30,316.22 299.30,369.40" fill="#F1AEB4"/>
<polygon points="229.80,369.40 229.80,366.10 230.27,365.07 230.73,365.96 231.20,365.36 231.67,366.50 232.13,366.65 232.60,365.81 233.07,366.06 233.53,365.74 234.00,365.47 234.46,365.60 234.93,366.00 235.40,366.34 235.86,366.41 236.33,365.64 236.80,364.75 237.26,365.78 237.73,366.49 238.20,365.88 238.66,365.30 239.13,365.66 239.60,366.52 240.06,365.76 240.53,365.44 240.99,365.26 241.46,366.97 241.93,366.01 242.39,365.46 242.86,364.60 243.33,365.06 243.79,366.42 244.26,365.18 244.73,366.02 245.19,365.83 245.66,365.95 246.13,365.57 246.59,364.73 247.06,366.34 247.52,365.23 247.99,365.70 248.46,365.26 248.92,365.23 249.39,365.81 249.86,365.34 250.32,365.00 250.79,366.41 251.26,364.96 251.72,365.53 252.19,364.81 252.66,366.97 253.12,365.75 253.59,366.02 254.06,366.13 254.52,366.89 254.99,365.88 255.45,365.89 255.92,366.41 256.39,366.27 256.85,365.26 257.32,365.82 257.79,365.11 258.25,364.43 258.72,365.71 259.19,365.74 259.65,366.67 260.12,366.93 260.59,365.88 261.05,366.16 261.52,365.34 261.98,365.12 262.45,365.86 262.92,365.51 263.38,366.25 263.85,365.52 264.32,366.73 264.78,365.51 265.25,365.10 265.72,367.03 266.18,366.30 266.65,365.39 267.12,365.51 267.58,365.54 268.05,366.39 268.51,364.85 268.98,365.50 269.45,365.60 269.91,365.22 270.38,365.32 270.85,365.33 271.31,365.76 271.78,365.88 272.25,366.80 272.71,365.19 273.18,364.71 273.65,366.51 274.11,365.46 274.58,365.77 275.04,366.19 275.51,366.01 275.98,366.75 276.44,365.26 276.91,365.81 277.38,365.40 277.84,364.89 278.31,365.40 278.78,366.30 279.24,364.96 279.71,365.72 280.18,365.63 280.64,366.17 281.11,365.67 281.58,365.99 282.04,366.20 282.51,366.09 282.97,365.00 283.44,365.04 283.91,366.17 284.37,366.13 284.84,365.56 285.31,366.29 285.77,366.13 286.24,365.29 286.71,364.56 287.17,365.34 287.64,365.61 288.11,365.50 288.57,365.53 289.04,365.92 289.50,365.44 289.97,365.68 290.44,365.32 290.90,365.57 291.37,364.97 291.84,365.22 292.30,365.45 292.77,365.89 293.24,364.61 293.70,364.55 294.17,364.85 294.64,365.05 295.10,366.36 295.57,365.55 296.03,363.81 296.50,366.00 296.97,366.16 297.43,365.45 297.90,367.02 298.37,365.44 298.83,365.55 299.30,366.02 299.30,369.40" fill="#C67DBB"/>
<polyline points="229.99,358.59 230.78,352.33 231.47,348.91 232.26,354.61 233.06,350.62 233.97,348.34 234.88,349.48 236.02,346.64 236.82,347.20 237.96,346.07 239.09,347.20 239.89,351.19 240.80,346.07 241.94,349.48 242.85,351.19 243.65,347.20 244.79,345.50 245.59,343.22 246.50,347.20 247.41,341.51 248.20,344.93 249.00,347.20 249.91,340.94 250.82,339.23 251.62,347.20 252.42,350.62 253.33,340.94 254.47,342.08 255.61,346.07 256.74,343.22 257.88,342.65 259.02,346.07 259.93,337.53 261.30,339.23 262.44,346.07 263.58,340.37 264.72,347.20 265.85,340.94 266.99,342.08 268.13,346.07 269.27,342.08 270.41,344.93 271.32,343.79 272.46,348.91 273.60,344.93 274.74,346.64 275.87,340.94 277.01,345.50 278.15,343.79 279.29,347.20 280.43,342.08 281.57,344.93 282.71,347.20 283.85,348.91 284.98,346.07 286.12,343.79 287.26,347.20 288.40,337.53 289.31,347.77 290.34,340.37 291.47,338.09 292.61,344.93 293.75,343.79 294.89,347.20 296.03,348.34 297.17,346.07 298.31,344.93 299.45,340.37" fill="none" stroke="#111" stroke-width="1.0" stroke-linejoin="round"/>
<rect x="226.30" y="295.60" width="76.50" height="73.80" fill="none" stroke="#262626" stroke-width="0.85"/>
<line x1="229.80" y1="369.40" x2="229.80" y2="371.40" stroke="#262626" stroke-width="0.7"/>
<line x1="264.55" y1="369.40" x2="264.55" y2="371.40" stroke="#262626" stroke-width="0.7"/>
<line x1="299.30" y1="369.40" x2="299.30" y2="371.40" stroke="#262626" stroke-width="0.7"/>
<line x1="302.80" y1="368.40" x2="306.00" y2="368.40" stroke="#262626" stroke-width="0.7"/>
<line x1="302.80" y1="353.84" x2="306.00" y2="353.84" stroke="#262626" stroke-width="0.7"/>
<line x1="302.80" y1="339.28" x2="306.00" y2="339.28" stroke="#262626" stroke-width="0.7"/>
<line x1="302.80" y1="324.72" x2="306.00" y2="324.72" stroke="#262626" stroke-width="0.7"/>
<line x1="302.80" y1="310.16" x2="306.00" y2="310.16" stroke="#262626" stroke-width="0.7"/>
<line x1="302.80" y1="295.60" x2="306.00" y2="295.60" stroke="#262626" stroke-width="0.7"/>
<polygon points="403.70,283.30 403.70,240.28 404.17,237.52 404.64,238.05 405.11,237.92 405.57,236.72 406.04,235.69 406.51,236.64 406.98,236.46 407.45,239.42 407.92,235.10 408.38,237.07 408.85,233.71 409.32,232.73 409.79,239.60 410.26,232.29 410.73,236.93 411.20,237.75 411.66,235.79 412.13,234.48 412.60,232.74 413.07,228.36 413.54,238.61 414.01,235.94 414.47,234.13 414.94,236.27 415.41,239.09 415.88,235.47 416.35,234.96 416.82,233.92 417.29,235.77 417.75,231.55 418.22,234.23 418.69,232.82 419.16,237.16 419.63,240.78 420.10,232.75 420.56,233.72 421.03,232.88 421.50,234.16 421.97,235.22 422.44,235.02 422.91,231.96 423.38,236.16 423.84,235.00 424.31,234.36 424.78,233.46 425.25,228.94 425.72,235.45 426.19,228.10 426.65,233.73 427.12,234.03 427.59,235.10 428.06,231.81 428.53,229.94 429.00,236.08 429.47,234.15 429.93,234.47 430.40,235.15 430.87,236.18 431.34,232.72 431.81,231.92 432.28,232.96 432.74,234.87 433.21,233.05 433.68,231.22 434.15,232.43 434.62,231.11 435.09,233.90 435.56,231.45 436.02,231.78 436.49,234.72 436.96,233.62 437.43,234.90 437.90,232.89 438.37,233.57 438.83,233.00 439.30,233.14 439.77,234.41 440.24,231.76 440.71,235.58 441.18,232.84 441.64,238.29 442.11,235.15 442.58,230.98 443.05,233.19 443.52,231.87 443.99,234.75 444.46,236.05 444.92,234.94 445.39,232.33 445.86,233.22 446.33,227.99 446.80,227.60 447.27,229.98 447.73,233.94 448.20,231.60 448.67,232.94 449.14,233.06 449.61,232.49 450.08,231.59 450.55,232.23 451.01,231.64 451.48,235.84 451.95,232.69 452.42,229.72 452.89,230.22 453.36,234.94 453.82,231.53 454.29,232.33 454.76,235.75 455.23,232.76 455.70,232.28 456.17,233.78 456.64,229.84 457.10,235.70 457.57,234.05 458.04,233.79 458.51,234.09 458.98,236.65 459.45,234.61 459.91,235.38 460.38,230.87 460.85,233.57 461.32,237.08 461.79,234.08 462.26,239.89 462.73,237.31 463.19,234.38 463.66,242.99 464.13,236.31 464.60,237.91 465.07,240.95 465.54,237.73 466.00,242.93 466.47,238.17 466.94,240.72 467.41,238.61 467.88,244.07 468.35,240.53 468.82,240.63 469.28,245.66 469.75,240.09 470.22,247.31 470.69,240.17 471.16,243.93 471.63,254.27 472.09,250.09 472.56,254.33 473.03,255.35 473.50,256.44 473.50,283.30" fill="#F1AEB4"/>
<polygon points="403.70,283.30 403.70,272.71 404.17,273.50 404.64,271.95 405.11,273.57 405.57,273.73 406.04,272.23 406.51,271.48 406.98,271.50 407.45,271.40 407.92,272.24 408.38,272.89 408.85,272.03 409.32,272.01 409.79,272.45 410.26,273.12 410.73,272.62 411.20,272.20 411.66,273.46 412.13,272.72 412.60,273.47 413.07,270.75 413.54,271.69 414.01,272.43 414.47,271.43 414.94,272.11 415.41,272.73 415.88,272.19 416.35,272.31 416.82,268.90 417.29,273.04 417.75,274.64 418.22,271.42 418.69,273.28 419.16,273.32 419.63,270.82 420.10,272.82 420.56,273.19 421.03,271.96 421.50,273.09 421.97,271.26 422.44,272.62 422.91,271.80 423.38,270.50 423.84,270.02 424.31,273.86 424.78,272.24 425.25,272.13 425.72,270.97 426.19,272.11 426.65,272.52 427.12,270.30 427.59,270.43 428.06,271.49 428.53,273.50 429.00,271.68 429.47,272.79 429.93,269.64 430.40,271.01 430.87,271.11 431.34,270.61 431.81,270.73 432.28,272.48 432.74,270.77 433.21,271.00 433.68,273.64 434.15,270.17 434.62,270.83 435.09,271.29 435.56,270.69 436.02,271.91 436.49,270.15 436.96,271.45 437.43,272.24 437.90,269.14 438.37,270.25 438.83,270.92 439.30,270.70 439.77,270.44 440.24,269.53 440.71,270.19 441.18,269.57 441.64,271.43 442.11,271.48 442.58,270.56 443.05,270.33 443.52,270.76 443.99,271.46 444.46,270.95 444.92,269.82 445.39,269.85 445.86,271.66 446.33,269.80 446.80,270.10 447.27,270.16 447.73,269.62 448.20,270.19 448.67,268.81 449.14,270.86 449.61,271.23 450.08,270.08 450.55,269.89 451.01,271.27 451.48,269.97 451.95,270.36 452.42,271.88 452.89,271.33 453.36,270.26 453.82,270.58 454.29,272.69 454.76,271.18 455.23,272.05 455.70,270.35 456.17,272.71 456.64,272.15 457.10,274.35 457.57,272.05 458.04,273.28 458.51,273.92 458.98,274.05 459.45,273.90 459.91,274.45 460.38,273.54 460.85,274.71 461.32,274.69 461.79,271.89 462.26,274.81 462.73,274.48 463.19,274.83 463.66,275.33 464.13,275.38 464.60,276.96 465.07,275.31 465.54,276.00 466.00,276.33 466.47,277.73 466.94,276.08 467.41,278.45 467.88,277.51 468.35,278.29 468.82,279.30 469.28,277.07 469.75,277.65 470.22,278.25 470.69,279.89 471.16,281.15 471.63,280.66 472.09,281.42 472.56,283.30 473.03,281.21 473.50,282.05 473.50,283.30" fill="#C67DBB"/>
<polyline points="403.70,265.76 404.41,264.60 405.11,262.44 405.82,261.69 406.52,265.10 407.23,262.38 407.93,265.18 408.64,264.26 409.34,262.73 410.05,264.84 410.75,260.80 411.46,268.16 412.16,264.81 412.87,265.59 413.57,264.73 414.28,264.27 414.98,266.80 415.69,262.70 416.39,266.25 417.10,263.54 417.80,262.94 418.51,266.11 419.21,262.73 419.92,264.05 420.62,264.94 421.33,263.21 422.03,262.05 422.74,262.38 423.44,263.94 424.15,264.95 424.85,265.33 425.56,263.32 426.26,264.35 426.97,265.30 427.67,265.53 428.38,265.98 429.08,265.65 429.79,263.93 430.49,265.88 431.20,266.22 431.90,265.61 432.61,266.06 433.31,266.08 434.02,263.20 434.72,261.75 435.43,264.56 436.13,264.02 436.84,264.90 437.54,263.77 438.25,266.33 438.95,264.37 439.66,262.41 440.36,266.11 441.07,265.02 441.77,265.01 442.48,266.02 443.18,263.58 443.89,265.11 444.59,262.54 445.30,264.73 446.00,265.55 446.71,265.96 447.41,266.43 448.12,263.61 448.82,264.99 449.53,262.23 450.23,264.62 450.94,263.92 451.64,263.93 452.35,266.66 453.05,263.62 453.76,264.31 454.46,265.80 455.17,264.93 455.87,264.04 456.58,264.10 457.28,263.89 457.99,264.02 458.69,262.90 459.40,264.97 460.10,265.31 460.81,265.24 461.51,264.21 462.22,265.69 462.92,266.62 463.63,266.59 464.33,262.91 465.04,264.57 465.74,262.88 466.45,264.09 467.15,264.79 467.86,262.46 468.56,264.32 469.27,264.74 469.97,271.38 470.68,272.23 471.38,272.53 472.09,277.68 472.79,275.81 473.50,279.52" fill="none" stroke="#111" stroke-width="1.0" stroke-linejoin="round"/>
<rect x="400.20" y="209.50" width="76.80" height="73.80" fill="none" stroke="#262626" stroke-width="0.85"/>
<line x1="403.70" y1="283.30" x2="403.70" y2="285.30" stroke="#262626" stroke-width="0.7"/>
<line x1="438.60" y1="283.30" x2="438.60" y2="285.30" stroke="#262626" stroke-width="0.7"/>
<line x1="473.50" y1="283.30" x2="473.50" y2="285.30" stroke="#262626" stroke-width="0.7"/>
<line x1="477.00" y1="282.30" x2="480.20" y2="282.30" stroke="#262626" stroke-width="0.7"/>
<line x1="477.00" y1="267.74" x2="480.20" y2="267.74" stroke="#262626" stroke-width="0.7"/>
<line x1="477.00" y1="253.18" x2="480.20" y2="253.18" stroke="#262626" stroke-width="0.7"/>
<line x1="477.00" y1="238.62" x2="480.20" y2="238.62" stroke="#262626" stroke-width="0.7"/>
<line x1="477.00" y1="224.06" x2="480.20" y2="224.06" stroke="#262626" stroke-width="0.7"/>
<line x1="477.00" y1="209.50" x2="480.20" y2="209.50" stroke="#262626" stroke-width="0.7"/>
<polygon points="493.30,283.30 493.30,250.32 493.77,239.27 494.24,235.09 494.71,237.68 495.18,237.22 495.65,232.97 496.11,228.26 496.58,228.02 497.05,216.73 497.52,222.34 497.99,219.91 498.46,221.17 498.93,219.38 499.40,222.43 499.87,224.48 500.34,218.35 500.81,223.88 501.28,224.94 501.74,219.14 502.21,225.25 502.68,225.66 503.15,217.70 503.62,220.77 504.09,223.74 504.56,224.07 505.03,226.62 505.50,219.07 505.97,221.65 506.44,219.62 506.90,218.77 507.37,224.11 507.84,218.73 508.31,221.32 508.78,220.93 509.25,227.30 509.72,220.58 510.19,223.53 510.66,224.34 511.13,222.55 511.60,224.15 512.07,223.66 512.53,225.06 513.00,224.71 513.47,222.70 513.94,217.45 514.41,227.44 514.88,230.14 515.35,223.31 515.82,220.27 516.29,224.10 516.76,230.15 517.23,225.61 517.69,225.63 518.16,228.63 518.63,220.98 519.10,222.11 519.57,226.84 520.04,221.00 520.51,224.76 520.98,218.79 521.45,221.09 521.92,217.59 522.39,223.29 522.86,220.48 523.32,225.27 523.79,223.18 524.26,221.33 524.73,222.61 525.20,223.20 525.67,222.23 526.14,223.55 526.61,225.66 527.08,222.57 527.55,223.50 528.02,222.72 528.48,224.01 528.95,221.91 529.42,223.53 529.89,229.04 530.36,221.40 530.83,222.31 531.30,225.50 531.77,220.41 532.24,221.93 532.71,219.06 533.18,221.04 533.64,221.31 534.11,219.31 534.58,223.69 535.05,227.02 535.52,222.98 535.99,219.40 536.46,221.87 536.93,222.66 537.40,226.40 537.87,226.30 538.34,223.79 538.81,225.63 539.27,223.73 539.74,221.89 540.21,220.11 540.68,220.90 541.15,219.49 541.62,226.04 542.09,228.30 542.56,225.01 543.03,227.75 543.50,222.21 543.97,221.47 544.43,217.49 544.90,226.14 545.37,225.10 545.84,227.16 546.31,225.70 546.78,221.16 547.25,223.76 547.72,222.31 548.19,226.69 548.66,224.51 549.13,223.75 549.60,223.40 550.06,222.56 550.53,220.77 551.00,225.45 551.47,221.52 551.94,224.04 552.41,220.60 552.88,221.01 553.35,221.65 553.82,224.52 554.29,226.93 554.76,221.14 555.22,221.08 555.69,223.43 556.16,224.65 556.63,222.82 557.10,222.80 557.57,227.84 558.04,224.70 558.51,221.55 558.98,219.19 559.45,220.13 559.92,223.20 560.39,222.62 560.85,223.77 561.32,223.74 561.79,222.62 562.26,223.73 562.73,223.25 563.20,222.22 563.20,283.30" fill="#F1AEB4"/>
<polygon points="493.30,283.30 493.30,283.30 493.77,282.73 494.24,281.12 494.71,282.74 495.18,282.33 495.65,279.55 496.11,279.00 496.58,278.00 497.05,279.49 497.52,277.93 497.99,277.90 498.46,277.76 498.93,276.75 499.40,276.83 499.87,274.89 500.34,275.54 500.81,276.19 501.28,274.35 501.74,273.70 502.21,275.91 502.68,273.23 503.15,273.04 503.62,272.48 504.09,273.07 504.56,272.67 505.03,269.57 505.50,269.23 505.97,269.06 506.44,271.29 506.90,271.45 507.37,270.67 507.84,269.83 508.31,269.37 508.78,269.74 509.25,269.83 509.72,270.16 510.19,270.58 510.66,269.21 511.13,271.34 511.60,268.23 512.07,270.34 512.53,271.76 513.00,269.32 513.47,269.41 513.94,268.60 514.41,268.72 514.88,269.79 515.35,268.53 515.82,270.03 516.29,269.09 516.76,270.73 517.23,269.93 517.69,269.35 518.16,270.17 518.63,267.93 519.10,266.41 519.57,269.25 520.04,269.39 520.51,270.52 520.98,268.69 521.45,269.05 521.92,268.64 522.39,269.90 522.86,269.11 523.32,268.81 523.79,266.97 524.26,269.53 524.73,268.00 525.20,268.15 525.67,268.80 526.14,269.34 526.61,267.69 527.08,268.75 527.55,267.13 528.02,266.57 528.48,269.73 528.95,268.18 529.42,268.81 529.89,269.87 530.36,269.41 530.83,267.69 531.30,266.65 531.77,267.96 532.24,266.97 532.71,267.63 533.18,266.96 533.64,269.08 534.11,269.40 534.58,267.59 535.05,269.56 535.52,269.61 535.99,268.59 536.46,267.36 536.93,268.55 537.40,267.93 537.87,268.77 538.34,266.18 538.81,268.46 539.27,268.05 539.74,268.14 540.21,266.27 540.68,266.66 541.15,267.15 541.62,268.44 542.09,267.05 542.56,265.62 543.03,267.30 543.50,269.13 543.97,266.96 544.43,267.50 544.90,267.30 545.37,266.82 545.84,268.47 546.31,266.43 546.78,266.79 547.25,265.77 547.72,268.42 548.19,267.47 548.66,266.10 549.13,266.60 549.60,267.60 550.06,266.52 550.53,266.64 551.00,267.21 551.47,266.66 551.94,264.89 552.41,266.19 552.88,266.42 553.35,265.68 553.82,268.09 554.29,267.28 554.76,266.54 555.22,266.59 555.69,267.59 556.16,267.06 556.63,268.13 557.10,268.18 557.57,266.56 558.04,267.44 558.51,268.99 558.98,268.08 559.45,268.43 559.92,268.55 560.39,269.81 560.85,270.44 561.32,271.14 561.79,269.48 562.26,268.34 562.73,271.44 563.20,270.07 563.20,283.30" fill="#C67DBB"/>
<polyline points="493.30,280.42 494.01,280.46 494.71,277.62 495.42,279.52 496.12,279.36 496.83,275.80 497.54,274.72 498.24,275.82 498.95,274.52 499.65,269.96 500.36,273.26 501.07,271.83 501.77,269.10 502.48,268.70 503.18,266.87 503.89,266.92 504.60,267.71 505.30,266.65 506.01,267.25 506.72,265.62 507.42,265.81 508.13,267.59 508.83,265.57 509.54,266.87 510.25,265.75 510.95,266.12 511.66,265.27 512.36,268.36 513.07,264.93 513.78,266.91 514.48,263.97 515.19,266.48 515.89,265.67 516.60,265.80 517.31,264.66 518.01,263.70 518.72,264.55 519.42,264.73 520.13,264.45 520.84,264.66 521.54,264.42 522.25,265.26 522.95,264.56 523.66,262.75 524.37,263.11 525.07,266.17 525.78,264.49 526.48,264.00 527.19,264.76 527.90,264.86 528.60,264.15 529.31,262.96 530.02,262.84 530.72,263.93 531.43,263.02 532.13,264.01 532.84,263.43 533.55,264.06 534.25,265.48 534.96,264.50 535.66,263.30 536.37,262.39 537.08,263.27 537.78,261.31 538.49,262.54 539.19,263.46 539.90,263.97 540.61,260.97 541.31,263.72 542.02,264.71 542.72,263.03 543.43,264.09 544.14,262.81 544.84,265.19 545.55,262.47 546.25,262.39 546.96,263.88 547.67,264.55 548.37,263.33 549.08,262.19 549.78,264.14 550.49,263.69 551.20,262.19 551.90,262.91 552.61,263.83 553.32,263.42 554.02,263.71 554.73,264.49 555.43,264.30 556.14,267.20 556.85,264.24 557.55,263.51 558.26,264.31 558.96,266.13 559.67,264.42 560.38,266.12 561.08,269.96 561.79,270.49 562.49,272.36 563.20,274.21" fill="none" stroke="#111" stroke-width="1.0" stroke-linejoin="round"/>
<rect x="489.80" y="209.50" width="76.90" height="73.80" fill="none" stroke="#262626" stroke-width="0.85"/>
<line x1="493.30" y1="283.30" x2="493.30" y2="285.30" stroke="#262626" stroke-width="0.7"/>
<line x1="528.25" y1="283.30" x2="528.25" y2="285.30" stroke="#262626" stroke-width="0.7"/>
<line x1="563.20" y1="283.30" x2="563.20" y2="285.30" stroke="#262626" stroke-width="0.7"/>
<line x1="566.70" y1="282.30" x2="569.90" y2="282.30" stroke="#262626" stroke-width="0.7"/>
<line x1="566.70" y1="267.74" x2="569.90" y2="267.74" stroke="#262626" stroke-width="0.7"/>
<line x1="566.70" y1="253.18" x2="569.90" y2="253.18" stroke="#262626" stroke-width="0.7"/>
<line x1="566.70" y1="238.62" x2="569.90" y2="238.62" stroke="#262626" stroke-width="0.7"/>
<line x1="566.70" y1="224.06" x2="569.90" y2="224.06" stroke="#262626" stroke-width="0.7"/>
<line x1="566.70" y1="209.50" x2="569.90" y2="209.50" stroke="#262626" stroke-width="0.7"/>
<line x1="493.30" y1="283.30" x2="557.20" y2="283.30" stroke="#000" stroke-width="2.3"/>
<polygon points="555.20,280.50 563.50,283.30 555.20,285.90" fill="#000"/>
<polygon points="582.80,283.30 582.80,248.89 583.26,250.96 583.73,250.09 584.19,250.82 584.66,250.76 585.12,250.61 585.58,244.52 586.05,242.17 586.51,243.19 586.97,242.85 587.44,242.08 587.90,242.42 588.37,238.82 588.83,242.62 589.29,237.36 589.76,240.30 590.22,239.78 590.68,242.56 591.15,238.91 591.61,232.43 592.08,238.79 592.54,239.38 593.00,237.06 593.47,235.25 593.93,234.86 594.39,239.13 594.86,240.12 595.32,239.54 595.79,236.69 596.25,241.51 596.71,231.99 597.18,237.50 597.64,236.09 598.10,231.08 598.57,237.94 599.03,235.27 599.50,237.03 599.96,233.73 600.42,237.00 600.89,234.54 601.35,237.34 601.81,232.64 602.28,236.57 602.74,238.51 603.21,234.49 603.67,240.63 604.13,231.01 604.60,233.94 605.06,234.25 605.52,234.80 605.99,231.90 606.45,234.95 606.92,235.58 607.38,236.54 607.84,234.50 608.31,230.85 608.77,237.81 609.23,232.78 609.70,234.55 610.16,233.88 610.63,231.10 611.09,233.24 611.55,237.71 612.02,235.29 612.48,238.89 612.94,234.64 613.41,237.67 613.87,231.18 614.34,233.91 614.80,241.67 615.26,231.49 615.73,236.49 616.19,236.81 616.65,231.92 617.12,229.59 617.58,229.40 618.05,236.50 618.51,237.84 618.97,231.50 619.44,234.19 619.90,238.06 620.36,230.81 620.83,235.43 621.29,234.78 621.76,238.44 622.22,235.41 622.68,235.92 623.15,235.80 623.61,237.80 624.07,237.16 624.54,234.70 625.00,236.24 625.47,235.05 625.93,234.71 626.39,234.56 626.86,233.30 627.32,234.51 627.78,231.13 628.25,233.33 628.71,237.41 629.18,235.85 629.64,234.57 630.10,236.19 630.57,232.21 631.03,240.26 631.49,234.19 631.96,233.88 632.42,238.52 632.89,238.85 633.35,229.32 633.81,234.23 634.28,234.50 634.74,237.77 635.20,233.11 635.67,236.60 636.13,236.50 636.60,233.77 637.06,232.13 637.52,235.21 637.99,239.03 638.45,235.49 638.91,239.05 639.38,232.36 639.84,236.35 640.31,237.80 640.77,237.64 641.23,235.92 641.70,233.81 642.16,231.95 642.62,233.74 643.09,239.22 643.55,237.65 644.02,234.05 644.48,236.67 644.94,234.63 645.41,238.60 645.87,240.44 646.33,235.50 646.80,234.72 647.26,232.07 647.73,235.67 648.19,234.39 648.65,230.70 649.12,232.81 649.58,235.48 650.04,237.53 650.51,233.22 650.97,236.73 651.44,231.32 651.90,233.95 651.90,283.30" fill="#F1AEB4"/>
<polygon points="582.80,283.30 582.80,280.26 583.26,279.62 583.73,279.55 584.19,279.60 584.66,277.98 585.12,278.29 585.58,278.38 586.05,278.11 586.51,279.34 586.97,277.54 587.44,278.63 587.90,278.12 588.37,276.79 588.83,278.54 589.29,278.49 589.76,277.78 590.22,275.23 590.68,276.40 591.15,275.49 591.61,276.22 592.08,276.95 592.54,275.02 593.00,274.39 593.47,275.12 593.93,274.21 594.39,275.24 594.86,273.89 595.32,273.60 595.79,274.74 596.25,274.32 596.71,273.94 597.18,274.98 597.64,273.25 598.10,273.65 598.57,273.44 599.03,273.39 599.50,274.55 599.96,273.69 600.42,273.74 600.89,272.00 601.35,272.78 601.81,273.31 602.28,272.17 602.74,273.27 603.21,272.68 603.67,272.85 604.13,273.71 604.60,273.90 605.06,272.88 605.52,272.48 605.99,271.91 606.45,273.34 606.92,272.85 607.38,272.46 607.84,272.68 608.31,273.03 608.77,271.65 609.23,272.13 609.70,271.33 610.16,271.68 610.63,271.66 611.09,272.12 611.55,273.81 612.02,271.87 612.48,271.72 612.94,272.34 613.41,272.46 613.87,272.98 614.34,272.99 614.80,271.42 615.26,272.98 615.73,274.04 616.19,272.51 616.65,272.94 617.12,273.13 617.58,272.00 618.05,274.40 618.51,272.17 618.97,272.71 619.44,272.99 619.90,272.92 620.36,272.53 620.83,270.75 621.29,272.26 621.76,272.26 622.22,271.54 622.68,272.14 623.15,272.07 623.61,273.00 624.07,273.07 624.54,272.38 625.00,272.75 625.47,272.50 625.93,273.25 626.39,271.29 626.86,272.18 627.32,273.07 627.78,272.71 628.25,272.14 628.71,272.43 629.18,272.98 629.64,273.47 630.10,272.22 630.57,272.02 631.03,272.09 631.49,271.53 631.96,273.33 632.42,271.94 632.89,273.26 633.35,272.53 633.81,272.95 634.28,274.13 634.74,272.31 635.20,272.09 635.67,273.87 636.13,272.05 636.60,271.29 637.06,273.70 637.52,272.70 637.99,272.27 638.45,272.31 638.91,270.79 639.38,272.04 639.84,271.79 640.31,272.57 640.77,273.04 641.23,273.32 641.70,271.99 642.16,272.23 642.62,271.34 643.09,270.18 643.55,271.55 644.02,271.71 644.48,273.06 644.94,272.73 645.41,272.52 645.87,273.31 646.33,271.45 646.80,272.07 647.26,271.43 647.73,271.86 648.19,271.36 648.65,272.72 649.12,273.72 649.58,272.59 650.04,272.18 650.51,270.14 650.97,272.12 651.44,272.59 651.90,272.72 651.90,283.30" fill="#C67DBB"/>
<polyline points="582.80,272.65 583.50,273.60 584.20,273.61 584.89,274.22 585.59,272.62 586.29,273.03 586.99,273.72 587.69,273.25 588.38,275.08 589.08,272.37 589.78,272.55 590.48,275.19 591.18,270.79 591.87,270.99 592.57,270.44 593.27,270.65 593.97,271.03 594.67,269.06 595.36,270.38 596.06,270.62 596.76,270.94 597.46,269.40 598.16,269.78 598.85,268.27 599.55,269.89 600.25,267.93 600.95,270.25 601.65,270.68 602.34,267.65 603.04,267.89 603.74,267.25 604.44,266.41 605.14,268.78 605.83,267.21 606.53,266.45 607.23,264.91 607.93,266.25 608.63,265.46 609.32,267.04 610.02,263.60 610.72,265.34 611.42,263.97 612.12,264.95 612.81,264.51 613.51,265.27 614.21,264.33 614.91,263.92 615.61,264.15 616.30,264.83 617.00,264.44 617.70,263.34 618.40,266.41 619.09,264.22 619.79,265.61 620.49,265.51 621.19,265.71 621.89,265.17 622.58,262.81 623.28,265.09 623.98,264.00 624.68,266.03 625.38,266.15 626.07,263.99 626.77,264.52 627.47,264.86 628.17,265.72 628.87,264.30 629.56,265.31 630.26,265.97 630.96,266.53 631.66,265.32 632.36,265.62 633.05,265.04 633.75,264.04 634.45,266.47 635.15,264.56 635.85,265.27 636.54,267.00 637.24,264.84 637.94,264.67 638.64,264.02 639.34,263.94 640.03,264.69 640.73,264.18 641.43,263.31 642.13,264.92 642.83,263.97 643.52,263.93 644.22,264.92 644.92,263.99 645.62,266.21 646.32,265.55 647.01,264.86 647.71,266.49 648.41,266.38 649.11,264.14 649.81,264.20 650.50,263.16 651.20,264.83 651.90,265.18" fill="none" stroke="#111" stroke-width="1.0" stroke-linejoin="round"/>
<rect x="579.30" y="209.50" width="76.10" height="73.80" fill="none" stroke="#262626" stroke-width="0.85"/>
<line x1="582.80" y1="283.30" x2="582.80" y2="285.30" stroke="#262626" stroke-width="0.7"/>
<line x1="617.35" y1="283.30" x2="617.35" y2="285.30" stroke="#262626" stroke-width="0.7"/>
<line x1="651.90" y1="283.30" x2="651.90" y2="285.30" stroke="#262626" stroke-width="0.7"/>
<line x1="655.40" y1="282.30" x2="658.60" y2="282.30" stroke="#262626" stroke-width="0.7"/>
<line x1="655.40" y1="267.74" x2="658.60" y2="267.74" stroke="#262626" stroke-width="0.7"/>
<line x1="655.40" y1="253.18" x2="658.60" y2="253.18" stroke="#262626" stroke-width="0.7"/>
<line x1="655.40" y1="238.62" x2="658.60" y2="238.62" stroke="#262626" stroke-width="0.7"/>
<line x1="655.40" y1="224.06" x2="658.60" y2="224.06" stroke="#262626" stroke-width="0.7"/>
<line x1="655.40" y1="209.50" x2="658.60" y2="209.50" stroke="#262626" stroke-width="0.7"/>
<polygon points="403.70,369.40 403.70,317.81 404.17,313.65 404.64,316.17 405.11,314.65 405.57,314.53 406.04,319.52 406.51,314.10 406.98,317.29 407.45,317.87 407.92,312.64 408.38,318.61 408.85,318.53 409.32,316.85 409.79,311.87 410.26,312.90 410.73,315.26 411.20,310.89 411.66,316.50 412.13,318.75 412.60,313.29 413.07,314.25 413.54,313.94 414.01,317.07 414.47,313.39 414.94,313.92 415.41,317.31 415.88,313.35 416.35,313.88 416.82,311.33 417.29,315.30 417.75,313.83 418.22,312.31 418.69,317.03 419.16,315.45 419.63,316.43 420.10,315.44 420.56,311.23 421.03,312.62 421.50,313.22 421.97,313.37 422.44,312.84 422.91,310.90 423.38,312.58 423.84,310.69 424.31,313.33 424.78,313.79 425.25,313.08 425.72,314.41 426.19,312.63 426.65,319.35 427.12,314.66 427.59,314.94 428.06,315.78 428.53,312.15 429.00,311.35 429.47,311.09 429.93,315.34 430.40,312.42 430.87,317.01 431.34,314.34 431.81,313.82 432.28,313.71 432.74,313.82 433.21,311.35 433.68,317.22 434.15,312.76 434.62,314.60 435.09,313.51 435.56,309.87 436.02,310.19 436.49,312.50 436.96,307.63 437.43,312.61 437.90,311.88 438.37,310.34 438.83,313.72 439.30,313.36 439.77,310.62 440.24,315.81 440.71,313.74 441.18,316.66 441.64,307.45 442.11,313.33 442.58,310.94 443.05,315.12 443.52,307.72 443.99,314.97 444.46,312.92 444.92,306.80 445.39,310.36 445.86,312.65 446.33,308.96 446.80,311.41 447.27,311.64 447.73,312.98 448.20,313.72 448.67,313.48 449.14,313.27 449.61,312.92 450.08,311.04 450.55,311.19 451.01,311.96 451.48,311.85 451.95,312.80 452.42,310.74 452.89,311.80 453.36,309.46 453.82,313.78 454.29,308.35 454.76,313.00 455.23,313.28 455.70,312.08 456.17,315.57 456.64,313.98 457.10,314.01 457.57,315.34 458.04,315.69 458.51,320.07 458.98,313.69 459.45,318.50 459.91,324.22 460.38,315.27 460.85,318.36 461.32,319.37 461.79,321.07 462.26,322.11 462.73,320.48 463.19,317.06 463.66,321.36 464.13,321.21 464.60,323.60 465.07,327.11 465.54,325.31 466.00,325.79 466.47,324.69 466.94,325.56 467.41,327.07 467.88,330.77 468.35,331.33 468.82,331.30 469.28,335.79 469.75,335.64 470.22,332.44 470.69,337.47 471.16,341.49 471.63,345.96 472.09,348.91 472.56,355.56 473.03,362.51 473.50,368.57 473.50,369.40" fill="#F1AEB4"/>
<polygon points="403.70,369.40 403.70,355.18 404.17,355.21 404.64,354.72 405.11,355.58 405.57,356.15 406.04,355.65 406.51,355.32 406.98,355.19 407.45,355.52 407.92,354.60 408.38,353.94 408.85,354.42 409.32,355.59 409.79,355.24 410.26,354.98 410.73,355.06 411.20,356.23 411.66,356.57 412.13,355.18 412.60,353.94 413.07,355.00 413.54,354.46 414.01,355.05 414.47,355.13 414.94,356.11 415.41,354.04 415.88,355.91 416.35,354.86 416.82,355.04 417.29,356.32 417.75,354.76 418.22,355.89 418.69,354.03 419.16,354.43 419.63,355.36 420.10,355.44 420.56,355.24 421.03,354.46 421.50,355.17 421.97,353.25 422.44,356.24 422.91,354.84 423.38,353.17 423.84,357.04 424.31,355.48 424.78,354.68 425.25,356.66 425.72,354.04 426.19,356.76 426.65,354.96 427.12,355.26 427.59,355.86 428.06,352.78 428.53,355.95 429.00,353.12 429.47,354.28 429.93,353.34 430.40,354.93 430.87,355.69 431.34,355.10 431.81,353.49 432.28,356.49 432.74,354.52 433.21,354.01 433.68,354.84 434.15,355.79 434.62,354.00 435.09,354.25 435.56,353.83 436.02,353.94 436.49,355.96 436.96,355.34 437.43,355.54 437.90,355.72 438.37,355.36 438.83,355.84 439.30,353.51 439.77,354.26 440.24,355.39 440.71,355.48 441.18,353.38 441.64,356.02 442.11,354.47 442.58,356.67 443.05,355.48 443.52,354.15 443.99,354.55 444.46,356.20 444.92,355.78 445.39,355.44 445.86,357.10 446.33,357.77 446.80,355.51 447.27,357.00 447.73,356.44 448.20,354.04 448.67,357.58 449.14,356.52 449.61,356.35 450.08,355.54 450.55,356.78 451.01,354.87 451.48,357.17 451.95,355.76 452.42,355.50 452.89,356.35 453.36,356.43 453.82,355.82 454.29,357.41 454.76,356.31 455.23,357.50 455.70,356.84 456.17,358.46 456.64,358.81 457.10,358.66 457.57,357.74 458.04,357.29 458.51,359.17 458.98,357.85 459.45,359.39 459.91,359.02 460.38,359.78 460.85,359.81 461.32,360.01 461.79,360.97 462.26,359.95 462.73,360.84 463.19,359.22 463.66,360.53 464.13,360.15 464.60,360.72 465.07,361.48 465.54,360.48 466.00,362.08 466.47,361.71 466.94,361.27 467.41,361.84 467.88,361.96 468.35,362.45 468.82,363.25 469.28,364.39 469.75,363.79 470.22,363.00 470.69,364.71 471.16,366.35 471.63,368.32 472.09,366.34 472.56,367.66 473.03,369.23 473.50,369.21 473.50,369.40" fill="#C67DBB"/>
<polyline points="403.70,349.62 404.41,347.96 405.11,347.94 405.82,347.91 406.52,347.82 407.23,348.35 407.93,347.88 408.64,347.20 409.34,346.33 410.05,348.53 410.75,349.25 411.46,349.90 412.16,348.05 412.87,348.52 413.57,346.58 414.28,349.75 414.98,348.89 415.69,349.31 416.39,348.11 417.10,348.53 417.80,349.24 418.51,348.95 419.21,347.21 419.92,346.91 420.62,347.63 421.33,347.55 422.03,347.59 422.74,348.91 423.44,348.29 424.15,349.34 424.85,347.52 425.56,348.87 426.26,348.84 426.97,347.85 427.67,347.83 428.38,348.60 429.08,349.41 429.79,349.04 430.49,348.94 431.20,348.04 431.90,347.54 432.61,348.53 433.31,347.68 434.02,350.48 434.72,348.24 435.43,348.49 436.13,350.31 436.84,347.37 437.54,348.41 438.25,346.75 438.95,348.00 439.66,349.05 440.36,351.49 441.07,350.22 441.77,348.16 442.48,347.28 443.18,348.95 443.89,350.36 444.59,348.72 445.30,349.94 446.00,351.12 446.71,348.93 447.41,351.09 448.12,350.32 448.82,351.15 449.53,349.21 450.23,350.56 450.94,350.74 451.64,350.44 452.35,349.52 453.05,351.41 453.76,349.76 454.46,351.82 455.17,349.81 455.87,352.16 456.58,351.90 457.28,349.62 457.99,350.49 458.69,351.40 459.40,351.85 460.10,349.70 460.81,352.24 461.51,352.50 462.22,353.62 462.92,353.53 463.63,353.47 464.33,354.04 465.04,351.78 465.74,352.38 466.45,353.15 467.15,353.32 467.86,351.19 468.56,353.33 469.27,352.32 469.97,355.87 470.68,356.64 471.38,356.36 472.09,359.29 472.79,359.56 473.50,362.34" fill="none" stroke="#111" stroke-width="1.0" stroke-linejoin="round"/>
<rect x="400.20" y="295.60" width="76.80" height="73.80" fill="none" stroke="#262626" stroke-width="0.85"/>
<line x1="403.70" y1="369.40" x2="403.70" y2="371.40" stroke="#262626" stroke-width="0.7"/>
<line x1="438.60" y1="369.40" x2="438.60" y2="371.40" stroke="#262626" stroke-width="0.7"/>
<line x1="473.50" y1="369.40" x2="473.50" y2="371.40" stroke="#262626" stroke-width="0.7"/>
<line x1="477.00" y1="368.40" x2="480.20" y2="368.40" stroke="#262626" stroke-width="0.7"/>
<line x1="477.00" y1="353.84" x2="480.20" y2="353.84" stroke="#262626" stroke-width="0.7"/>
<line x1="477.00" y1="339.28" x2="480.20" y2="339.28" stroke="#262626" stroke-width="0.7"/>
<line x1="477.00" y1="324.72" x2="480.20" y2="324.72" stroke="#262626" stroke-width="0.7"/>
<line x1="477.00" y1="310.16" x2="480.20" y2="310.16" stroke="#262626" stroke-width="0.7"/>
<line x1="477.00" y1="295.60" x2="480.20" y2="295.60" stroke="#262626" stroke-width="0.7"/>
<polygon points="493.30,369.40 493.30,327.99 493.77,329.58 494.24,328.16 494.71,327.86 495.18,325.96 495.65,314.79 496.11,318.99 496.58,317.20 497.05,313.47 497.52,313.06 497.99,314.26 498.46,312.56 498.93,307.34 499.40,310.07 499.87,306.06 500.34,309.65 500.81,310.66 501.28,309.00 501.74,310.41 502.21,308.47 502.68,313.55 503.15,309.61 503.62,304.97 504.09,309.38 504.56,304.03 505.03,303.18 505.50,309.43 505.97,306.03 506.44,309.43 506.90,308.58 507.37,310.38 507.84,307.33 508.31,306.12 508.78,306.70 509.25,307.48 509.72,310.23 510.19,308.80 510.66,307.45 511.13,307.56 511.60,310.29 512.07,306.28 512.53,304.67 513.00,308.20 513.47,305.65 513.94,307.84 514.41,311.09 514.88,308.68 515.35,304.50 515.82,308.58 516.29,308.78 516.76,310.13 517.23,310.44 517.69,300.56 518.16,305.70 518.63,307.98 519.10,304.32 519.57,309.58 520.04,308.56 520.51,307.00 520.98,311.00 521.45,303.64 521.92,304.04 522.39,306.47 522.86,308.38 523.32,306.08 523.79,311.13 524.26,310.80 524.73,310.45 525.20,308.33 525.67,306.82 526.14,308.53 526.61,306.77 527.08,307.42 527.55,310.03 528.02,310.19 528.48,303.09 528.95,307.41 529.42,308.79 529.89,307.71 530.36,308.72 530.83,306.71 531.30,312.93 531.77,308.81 532.24,303.32 532.71,305.54 533.18,308.85 533.64,307.53 534.11,307.32 534.58,308.01 535.05,307.36 535.52,309.41 535.99,307.44 536.46,307.32 536.93,311.84 537.40,307.18 537.87,312.32 538.34,308.88 538.81,306.44 539.27,309.94 539.74,307.02 540.21,306.22 540.68,307.71 541.15,308.08 541.62,308.08 542.09,308.98 542.56,309.00 543.03,314.48 543.50,304.59 543.97,308.14 544.43,314.06 544.90,303.29 545.37,303.82 545.84,308.89 546.31,304.48 546.78,304.08 547.25,309.67 547.72,311.93 548.19,309.82 548.66,305.89 549.13,308.38 549.60,304.33 550.06,307.32 550.53,311.28 551.00,307.59 551.47,305.93 551.94,303.55 552.41,308.60 552.88,307.66 553.35,305.26 553.82,307.42 554.29,306.69 554.76,307.77 555.22,304.93 555.69,308.25 556.16,305.14 556.63,308.57 557.10,303.55 557.57,307.53 558.04,307.13 558.51,308.39 558.98,307.43 559.45,301.77 559.92,305.58 560.39,308.61 560.85,310.12 561.32,312.38 561.79,305.12 562.26,306.83 562.73,309.29 563.20,307.21 563.20,369.40" fill="#F1AEB4"/>
<polygon points="493.30,369.40 493.30,364.89 493.77,363.46 494.24,363.56 494.71,361.22 495.18,359.33 495.65,359.15 496.11,356.78 496.58,356.57 497.05,357.45 497.52,356.24 497.99,355.93 498.46,354.85 498.93,355.41 499.40,356.96 499.87,354.58 500.34,353.94 500.81,354.10 501.28,353.44 501.74,354.65 502.21,352.12 502.68,352.85 503.15,353.76 503.62,352.89 504.09,352.33 504.56,351.78 505.03,352.80 505.50,350.50 505.97,352.66 506.44,352.66 506.90,353.02 507.37,352.27 507.84,351.01 508.31,352.70 508.78,352.44 509.25,351.74 509.72,353.46 510.19,351.54 510.66,351.61 511.13,351.26 511.60,351.25 512.07,351.37 512.53,351.89 513.00,352.77 513.47,351.92 513.94,353.11 514.41,352.23 514.88,352.43 515.35,351.97 515.82,351.80 516.29,352.63 516.76,352.20 517.23,352.28 517.69,353.85 518.16,352.67 518.63,354.08 519.10,351.79 519.57,353.21 520.04,352.94 520.51,352.14 520.98,351.97 521.45,350.63 521.92,352.55 522.39,350.16 522.86,350.50 523.32,351.72 523.79,350.93 524.26,350.65 524.73,351.07 525.20,352.26 525.67,351.85 526.14,351.22 526.61,350.80 527.08,350.94 527.55,351.52 528.02,351.40 528.48,351.49 528.95,351.42 529.42,352.34 529.89,353.30 530.36,351.22 530.83,352.77 531.30,351.71 531.77,352.06 532.24,350.51 532.71,352.00 533.18,351.86 533.64,351.82 534.11,349.83 534.58,350.61 535.05,351.42 535.52,350.78 535.99,350.51 536.46,349.51 536.93,352.05 537.40,351.52 537.87,351.55 538.34,351.59 538.81,350.58 539.27,350.29 539.74,349.84 540.21,351.04 540.68,349.47 541.15,350.29 541.62,351.34 542.09,350.28 542.56,350.18 543.03,351.19 543.50,351.98 543.97,350.46 544.43,349.88 544.90,352.06 545.37,350.45 545.84,350.74 546.31,350.27 546.78,352.43 547.25,351.43 547.72,350.22 548.19,351.54 548.66,351.05 549.13,349.93 549.60,350.28 550.06,351.18 550.53,350.52 551.00,350.03 551.47,351.23 551.94,350.60 552.41,349.72 552.88,351.95 553.35,350.83 553.82,351.70 554.29,350.77 554.76,351.10 555.22,352.00 555.69,350.76 556.16,352.94 556.63,351.04 557.10,353.12 557.57,353.14 558.04,353.75 558.51,353.13 558.98,354.43 559.45,354.78 559.92,354.94 560.39,355.45 560.85,355.21 561.32,356.19 561.79,356.71 562.26,356.59 562.73,356.47 563.20,358.24 563.20,369.40" fill="#C67DBB"/>
<polyline points="493.30,362.50 494.01,361.10 494.71,358.84 495.42,358.95 496.12,356.44 496.83,355.96 497.54,356.35 498.24,354.28 498.95,352.22 499.65,352.16 500.36,351.72 501.07,352.28 501.77,347.65 502.48,350.50 503.18,347.46 503.89,349.43 504.60,348.18 505.30,348.08 506.01,348.95 506.72,348.60 507.42,349.41 508.13,348.62 508.83,347.46 509.54,347.14 510.25,346.32 510.95,345.51 511.66,349.10 512.36,347.05 513.07,346.84 513.78,344.12 514.48,346.82 515.19,345.95 515.89,345.25 516.60,346.02 517.31,346.85 518.01,345.99 518.72,345.39 519.42,346.21 520.13,347.53 520.84,345.44 521.54,347.39 522.25,346.20 522.95,347.79 523.66,344.88 524.37,346.68 525.07,347.91 525.78,346.50 526.48,346.68 527.19,348.97 527.90,347.99 528.60,345.98 529.31,349.15 530.02,345.09 530.72,345.46 531.43,346.00 532.13,345.33 532.84,346.83 533.55,347.16 534.25,346.06 534.96,344.81 535.66,346.06 536.37,347.52 537.08,346.54 537.78,345.15 538.49,348.14 539.19,343.68 539.90,346.16 540.61,344.89 541.31,343.96 542.02,345.59 542.72,346.82 543.43,345.84 544.14,346.24 544.84,346.08 545.55,344.76 546.25,345.61 546.96,346.03 547.67,345.22 548.37,345.46 549.08,346.86 549.78,345.34 550.49,348.76 551.20,348.02 551.90,346.99 552.61,348.46 553.32,348.17 554.02,348.08 554.73,347.87 555.43,348.04 556.14,349.37 556.85,350.18 557.55,349.99 558.26,348.24 558.96,351.63 559.67,351.03 560.38,355.43 561.08,354.78 561.79,356.96 562.49,359.10 563.20,358.36" fill="none" stroke="#111" stroke-width="1.0" stroke-linejoin="round"/>
<rect x="489.80" y="295.60" width="76.90" height="73.80" fill="none" stroke="#262626" stroke-width="0.85"/>
<line x1="493.30" y1="369.40" x2="493.30" y2="371.40" stroke="#262626" stroke-width="0.7"/>
<line x1="528.25" y1="369.40" x2="528.25" y2="371.40" stroke="#262626" stroke-width="0.7"/>
<line x1="563.20" y1="369.40" x2="563.20" y2="371.40" stroke="#262626" stroke-width="0.7"/>
<line x1="566.70" y1="368.40" x2="569.90" y2="368.40" stroke="#262626" stroke-width="0.7"/>
<line x1="566.70" y1="353.84" x2="569.90" y2="353.84" stroke="#262626" stroke-width="0.7"/>
<line x1="566.70" y1="339.28" x2="569.90" y2="339.28" stroke="#262626" stroke-width="0.7"/>
<line x1="566.70" y1="324.72" x2="569.90" y2="324.72" stroke="#262626" stroke-width="0.7"/>
<line x1="566.70" y1="310.16" x2="569.90" y2="310.16" stroke="#262626" stroke-width="0.7"/>
<line x1="566.70" y1="295.60" x2="569.90" y2="295.60" stroke="#262626" stroke-width="0.7"/>
<line x1="493.30" y1="369.40" x2="557.20" y2="369.40" stroke="#000" stroke-width="2.3"/>
<polygon points="555.20,366.60 563.50,369.40 555.20,372.00" fill="#000"/>
<polygon points="582.80,369.40 582.80,335.23 583.26,335.80 583.73,333.42 584.19,329.93 584.66,334.37 585.12,333.27 585.58,328.96 586.05,329.94 586.51,325.31 586.97,330.69 587.44,329.30 587.90,326.32 588.37,326.65 588.83,320.09 589.29,323.46 589.76,325.46 590.22,320.43 590.68,324.20 591.15,318.28 591.61,320.07 592.08,319.96 592.54,318.20 593.00,320.56 593.47,319.34 593.93,319.87 594.39,315.36 594.86,314.99 595.32,319.89 595.79,318.75 596.25,317.07 596.71,314.22 597.18,316.90 597.64,316.95 598.10,317.43 598.57,319.60 599.03,316.74 599.50,316.10 599.96,317.45 600.42,315.83 600.89,313.96 601.35,318.00 601.81,314.62 602.28,314.01 602.74,315.98 603.21,319.96 603.67,311.64 604.13,316.98 604.60,313.63 605.06,315.99 605.52,316.94 605.99,316.51 606.45,315.27 606.92,310.56 607.38,312.28 607.84,316.28 608.31,314.81 608.77,317.97 609.23,317.57 609.70,313.52 610.16,314.98 610.63,316.09 611.09,314.89 611.55,315.20 612.02,317.61 612.48,315.88 612.94,315.56 613.41,316.01 613.87,316.51 614.34,313.81 614.80,315.62 615.26,313.36 615.73,319.49 616.19,320.06 616.65,312.18 617.12,313.55 617.58,317.07 618.05,312.65 618.51,314.99 618.97,312.65 619.44,313.40 619.90,319.76 620.36,314.96 620.83,311.70 621.29,309.83 621.76,315.74 622.22,312.81 622.68,314.43 623.15,316.06 623.61,316.09 624.07,313.79 624.54,314.94 625.00,313.96 625.47,310.98 625.93,311.70 626.39,313.76 626.86,315.67 627.32,316.86 627.78,313.18 628.25,312.67 628.71,311.33 629.18,314.25 629.64,315.26 630.10,314.69 630.57,314.85 631.03,317.66 631.49,314.98 631.96,310.76 632.42,312.78 632.89,314.55 633.35,317.00 633.81,311.15 634.28,312.91 634.74,310.20 635.20,317.31 635.67,311.26 636.13,312.08 636.60,312.70 637.06,311.46 637.52,315.54 637.99,316.45 638.45,315.50 638.91,315.58 639.38,313.17 639.84,316.52 640.31,314.21 640.77,313.75 641.23,315.51 641.70,314.38 642.16,314.71 642.62,312.57 643.09,314.54 643.55,315.14 644.02,314.68 644.48,309.32 644.94,318.29 645.41,312.96 645.87,314.40 646.33,312.89 646.80,314.74 647.26,310.52 647.73,312.16 648.19,314.99 648.65,313.72 649.12,313.53 649.58,312.17 650.04,311.86 650.51,313.81 650.97,315.57 651.44,315.60 651.90,318.12 651.90,369.40" fill="#F1AEB4"/>
<polygon points="582.80,369.40 582.80,365.49 583.26,365.05 583.73,365.19 584.19,363.70 584.66,364.09 585.12,362.76 585.58,362.45 586.05,363.34 586.51,361.45 586.97,363.23 587.44,363.30 587.90,362.57 588.37,361.98 588.83,360.75 589.29,359.41 589.76,361.13 590.22,359.97 590.68,359.68 591.15,359.33 591.61,359.36 592.08,358.71 592.54,359.30 593.00,359.05 593.47,359.02 593.93,357.59 594.39,359.25 594.86,358.40 595.32,358.89 595.79,358.22 596.25,357.38 596.71,356.54 597.18,357.79 597.64,355.79 598.10,357.30 598.57,355.95 599.03,354.95 599.50,356.49 599.96,355.00 600.42,356.07 600.89,356.25 601.35,355.88 601.81,355.35 602.28,355.83 602.74,354.02 603.21,354.92 603.67,354.06 604.13,355.62 604.60,355.86 605.06,354.92 605.52,355.74 605.99,355.53 606.45,354.04 606.92,354.64 607.38,355.98 607.84,353.76 608.31,355.36 608.77,354.07 609.23,355.15 609.70,355.17 610.16,355.85 610.63,354.83 611.09,354.76 611.55,354.53 612.02,354.18 612.48,356.24 612.94,355.39 613.41,354.96 613.87,353.42 614.34,354.14 614.80,354.99 615.26,354.16 615.73,355.49 616.19,354.26 616.65,353.95 617.12,354.73 617.58,354.49 618.05,354.70 618.51,354.95 618.97,354.41 619.44,354.79 619.90,355.28 620.36,354.70 620.83,354.92 621.29,354.23 621.76,354.10 622.22,355.60 622.68,353.71 623.15,353.56 623.61,353.48 624.07,354.20 624.54,354.44 625.00,353.70 625.47,354.09 625.93,353.72 626.39,354.89 626.86,353.79 627.32,354.11 627.78,354.72 628.25,352.09 628.71,354.50 629.18,354.40 629.64,354.95 630.10,354.23 630.57,355.47 631.03,353.97 631.49,353.91 631.96,353.65 632.42,353.24 632.89,354.38 633.35,354.22 633.81,354.81 634.28,354.82 634.74,354.32 635.20,354.70 635.67,355.31 636.13,355.56 636.60,354.89 637.06,355.49 637.52,354.50 637.99,353.73 638.45,354.89 638.91,354.26 639.38,353.75 639.84,355.32 640.31,354.27 640.77,353.91 641.23,354.75 641.70,355.39 642.16,352.80 642.62,355.39 643.09,355.58 643.55,354.14 644.02,354.88 644.48,354.36 644.94,354.52 645.41,354.96 645.87,354.36 646.33,353.95 646.80,352.87 647.26,354.72 647.73,354.22 648.19,353.52 648.65,355.46 649.12,354.65 649.58,354.94 650.04,354.70 650.51,355.55 650.97,353.12 651.44,353.89 651.90,354.82 651.90,369.40" fill="#C67DBB"/>
<polyline points="582.80,360.26 583.50,358.49 584.20,355.49 584.89,354.86 585.59,353.80 586.29,354.11 586.99,353.56 587.69,353.65 588.38,352.79 589.08,354.05 589.78,351.54 590.48,353.64 591.18,351.98 591.87,351.91 592.57,352.36 593.27,351.10 593.97,353.57 594.67,352.10 595.36,350.91 596.06,349.74 596.76,349.33 597.46,350.93 598.16,350.75 598.85,349.75 599.55,348.31 600.25,348.49 600.95,348.86 601.65,348.54 602.34,349.63 603.04,351.13 603.74,349.11 604.44,349.45 605.14,350.65 605.83,351.27 606.53,348.87 607.23,347.70 607.93,348.91 608.63,347.73 609.32,350.12 610.02,348.81 610.72,346.19 611.42,348.04 612.12,348.00 612.81,347.30 613.51,346.78 614.21,348.21 614.91,347.06 615.61,348.32 616.30,345.67 617.00,347.32 617.70,345.97 618.40,348.24 619.09,345.92 619.79,347.88 620.49,348.38 621.19,346.31 621.89,347.65 622.58,347.90 623.28,347.03 623.98,347.72 624.68,349.72 625.38,348.19 626.07,348.19 626.77,347.38 627.47,348.04 628.17,349.45 628.87,348.82 629.56,350.07 630.26,347.02 630.96,349.24 631.66,348.27 632.36,347.51 633.05,348.57 633.75,347.16 634.45,347.71 635.15,348.47 635.85,348.88 636.54,347.93 637.24,348.29 637.94,346.74 638.64,347.71 639.34,346.62 640.03,348.30 640.73,347.43 641.43,347.73 642.13,347.37 642.83,344.80 643.52,346.27 644.22,346.96 644.92,347.57 645.62,345.55 646.32,347.41 647.01,348.00 647.71,347.90 648.41,345.78 649.11,348.05 649.81,348.13 650.50,347.01 651.20,348.16 651.90,348.84" fill="none" stroke="#111" stroke-width="1.0" stroke-linejoin="round"/>
<rect x="579.30" y="295.60" width="76.10" height="73.80" fill="none" stroke="#262626" stroke-width="0.85"/>
<line x1="582.80" y1="369.40" x2="582.80" y2="371.40" stroke="#262626" stroke-width="0.7"/>
<line x1="617.35" y1="369.40" x2="617.35" y2="371.40" stroke="#262626" stroke-width="0.7"/>
<line x1="651.90" y1="369.40" x2="651.90" y2="371.40" stroke="#262626" stroke-width="0.7"/>
<line x1="655.40" y1="368.40" x2="658.60" y2="368.40" stroke="#262626" stroke-width="0.7"/>
<line x1="655.40" y1="353.84" x2="658.60" y2="353.84" stroke="#262626" stroke-width="0.7"/>
<line x1="655.40" y1="339.28" x2="658.60" y2="339.28" stroke="#262626" stroke-width="0.7"/>
<line x1="655.40" y1="324.72" x2="658.60" y2="324.72" stroke="#262626" stroke-width="0.7"/>
<line x1="655.40" y1="310.16" x2="658.60" y2="310.16" stroke="#262626" stroke-width="0.7"/>
<line x1="655.40" y1="295.60" x2="658.60" y2="295.60" stroke="#262626" stroke-width="0.7"/>
<line x1="46.20" y1="282.90" x2="48.20" y2="282.90" stroke="#262626" stroke-width="0.7"/>
<text x="43.80" y="285.10" font-size="6.2" text-anchor="end" font-weight="normal" font-style="normal" fill="#2a2a2a" color="#2a2a2a" >0</text>
<line x1="46.20" y1="265.50" x2="48.20" y2="265.50" stroke="#262626" stroke-width="0.7"/>
<text x="43.80" y="267.70" font-size="6.2" text-anchor="end" font-weight="normal" font-style="normal" fill="#2a2a2a" color="#2a2a2a" >10</text>
<line x1="46.20" y1="248.10" x2="48.20" y2="248.10" stroke="#262626" stroke-width="0.7"/>
<text x="43.80" y="250.30" font-size="6.2" text-anchor="end" font-weight="normal" font-style="normal" fill="#2a2a2a" color="#2a2a2a" >20</text>
<line x1="46.20" y1="230.70" x2="48.20" y2="230.70" stroke="#262626" stroke-width="0.7"/>
<text x="43.80" y="232.90" font-size="6.2" text-anchor="end" font-weight="normal" font-style="normal" fill="#2a2a2a" color="#2a2a2a" >30</text>
<line x1="46.20" y1="213.40" x2="48.20" y2="213.40" stroke="#262626" stroke-width="0.7"/>
<text x="43.80" y="215.60" font-size="6.2" text-anchor="end" font-weight="normal" font-style="normal" fill="#2a2a2a" color="#2a2a2a" >40</text>
<line x1="46.20" y1="369.10" x2="48.20" y2="369.10" stroke="#262626" stroke-width="0.7"/>
<text x="43.80" y="371.30" font-size="6.2" text-anchor="end" font-weight="normal" font-style="normal" fill="#2a2a2a" color="#2a2a2a" >0</text>
<line x1="46.20" y1="352.80" x2="48.20" y2="352.80" stroke="#262626" stroke-width="0.7"/>
<text x="43.80" y="355.00" font-size="6.2" text-anchor="end" font-weight="normal" font-style="normal" fill="#2a2a2a" color="#2a2a2a" >20</text>
<line x1="46.20" y1="336.50" x2="48.20" y2="336.50" stroke="#262626" stroke-width="0.7"/>
<text x="43.80" y="338.70" font-size="6.2" text-anchor="end" font-weight="normal" font-style="normal" fill="#2a2a2a" color="#2a2a2a" >40</text>
<line x1="46.20" y1="320.20" x2="48.20" y2="320.20" stroke="#262626" stroke-width="0.7"/>
<text x="43.80" y="322.40" font-size="6.2" text-anchor="end" font-weight="normal" font-style="normal" fill="#2a2a2a" color="#2a2a2a" >60</text>
<line x1="46.20" y1="303.90" x2="48.20" y2="303.90" stroke="#262626" stroke-width="0.7"/>
<text x="43.80" y="306.10" font-size="6.2" text-anchor="end" font-weight="normal" font-style="normal" fill="#2a2a2a" color="#2a2a2a" >80</text>
<line x1="135.40" y1="282.90" x2="137.40" y2="282.90" stroke="#262626" stroke-width="0.7"/>
<line x1="135.40" y1="265.50" x2="137.40" y2="265.50" stroke="#262626" stroke-width="0.7"/>
<line x1="135.40" y1="248.10" x2="137.40" y2="248.10" stroke="#262626" stroke-width="0.7"/>
<line x1="135.40" y1="230.70" x2="137.40" y2="230.70" stroke="#262626" stroke-width="0.7"/>
<line x1="135.40" y1="213.40" x2="137.40" y2="213.40" stroke="#262626" stroke-width="0.7"/>
<line x1="135.40" y1="369.10" x2="137.40" y2="369.10" stroke="#262626" stroke-width="0.7"/>
<line x1="135.40" y1="352.80" x2="137.40" y2="352.80" stroke="#262626" stroke-width="0.7"/>
<line x1="135.40" y1="336.50" x2="137.40" y2="336.50" stroke="#262626" stroke-width="0.7"/>
<line x1="135.40" y1="320.20" x2="137.40" y2="320.20" stroke="#262626" stroke-width="0.7"/>
<line x1="135.40" y1="303.90" x2="137.40" y2="303.90" stroke="#262626" stroke-width="0.7"/>
<line x1="224.30" y1="282.90" x2="226.30" y2="282.90" stroke="#262626" stroke-width="0.7"/>
<line x1="224.30" y1="265.50" x2="226.30" y2="265.50" stroke="#262626" stroke-width="0.7"/>
<line x1="224.30" y1="248.10" x2="226.30" y2="248.10" stroke="#262626" stroke-width="0.7"/>
<line x1="224.30" y1="230.70" x2="226.30" y2="230.70" stroke="#262626" stroke-width="0.7"/>
<line x1="224.30" y1="213.40" x2="226.30" y2="213.40" stroke="#262626" stroke-width="0.7"/>
<line x1="224.30" y1="369.10" x2="226.30" y2="369.10" stroke="#262626" stroke-width="0.7"/>
<line x1="224.30" y1="352.80" x2="226.30" y2="352.80" stroke="#262626" stroke-width="0.7"/>
<line x1="224.30" y1="336.50" x2="226.30" y2="336.50" stroke="#262626" stroke-width="0.7"/>
<line x1="224.30" y1="320.20" x2="226.30" y2="320.20" stroke="#262626" stroke-width="0.7"/>
<line x1="224.30" y1="303.90" x2="226.30" y2="303.90" stroke="#262626" stroke-width="0.7"/>
<line x1="398.20" y1="283.50" x2="400.20" y2="283.50" stroke="#262626" stroke-width="0.7"/>
<text x="395.80" y="285.70" font-size="6.2" text-anchor="end" font-weight="normal" font-style="normal" fill="#2a2a2a" color="#2a2a2a" >0</text>
<line x1="398.20" y1="269.10" x2="400.20" y2="269.10" stroke="#262626" stroke-width="0.7"/>
<text x="395.80" y="271.30" font-size="6.2" text-anchor="end" font-weight="normal" font-style="normal" fill="#2a2a2a" color="#2a2a2a" >10</text>
<line x1="398.20" y1="255.00" x2="400.20" y2="255.00" stroke="#262626" stroke-width="0.7"/>
<text x="395.80" y="257.20" font-size="6.2" text-anchor="end" font-weight="normal" font-style="normal" fill="#2a2a2a" color="#2a2a2a" >20</text>
<line x1="398.20" y1="240.70" x2="400.20" y2="240.70" stroke="#262626" stroke-width="0.7"/>
<text x="395.80" y="242.90" font-size="6.2" text-anchor="end" font-weight="normal" font-style="normal" fill="#2a2a2a" color="#2a2a2a" >30</text>
<line x1="398.20" y1="226.50" x2="400.20" y2="226.50" stroke="#262626" stroke-width="0.7"/>
<text x="395.80" y="228.70" font-size="6.2" text-anchor="end" font-weight="normal" font-style="normal" fill="#2a2a2a" color="#2a2a2a" >40</text>
<line x1="398.20" y1="212.40" x2="400.20" y2="212.40" stroke="#262626" stroke-width="0.7"/>
<text x="395.80" y="214.60" font-size="6.2" text-anchor="end" font-weight="normal" font-style="normal" fill="#2a2a2a" color="#2a2a2a" >50</text>
<line x1="398.20" y1="369.80" x2="400.20" y2="369.80" stroke="#262626" stroke-width="0.7"/>
<text x="395.80" y="372.00" font-size="6.2" text-anchor="end" font-weight="normal" font-style="normal" fill="#2a2a2a" color="#2a2a2a" >0</text>
<line x1="398.20" y1="349.80" x2="400.20" y2="349.80" stroke="#262626" stroke-width="0.7"/>
<text x="395.80" y="352.00" font-size="6.2" text-anchor="end" font-weight="normal" font-style="normal" fill="#2a2a2a" color="#2a2a2a" >20</text>
<line x1="398.20" y1="329.60" x2="400.20" y2="329.60" stroke="#262626" stroke-width="0.7"/>
<text x="395.80" y="331.80" font-size="6.2" text-anchor="end" font-weight="normal" font-style="normal" fill="#2a2a2a" color="#2a2a2a" >40</text>
<line x1="398.20" y1="309.60" x2="400.20" y2="309.60" stroke="#262626" stroke-width="0.7"/>
<text x="395.80" y="311.80" font-size="6.2" text-anchor="end" font-weight="normal" font-style="normal" fill="#2a2a2a" color="#2a2a2a" >60</text>
<line x1="487.80" y1="283.50" x2="489.80" y2="283.50" stroke="#262626" stroke-width="0.7"/>
<line x1="487.80" y1="269.10" x2="489.80" y2="269.10" stroke="#262626" stroke-width="0.7"/>
<line x1="487.80" y1="255.00" x2="489.80" y2="255.00" stroke="#262626" stroke-width="0.7"/>
<line x1="487.80" y1="240.70" x2="489.80" y2="240.70" stroke="#262626" stroke-width="0.7"/>
<line x1="487.80" y1="226.50" x2="489.80" y2="226.50" stroke="#262626" stroke-width="0.7"/>
<line x1="487.80" y1="212.40" x2="489.80" y2="212.40" stroke="#262626" stroke-width="0.7"/>
<line x1="487.80" y1="369.80" x2="489.80" y2="369.80" stroke="#262626" stroke-width="0.7"/>
<line x1="487.80" y1="349.80" x2="489.80" y2="349.80" stroke="#262626" stroke-width="0.7"/>
<line x1="487.80" y1="329.60" x2="489.80" y2="329.60" stroke="#262626" stroke-width="0.7"/>
<line x1="487.80" y1="309.60" x2="489.80" y2="309.60" stroke="#262626" stroke-width="0.7"/>
<line x1="577.30" y1="283.50" x2="579.30" y2="283.50" stroke="#262626" stroke-width="0.7"/>
<line x1="577.30" y1="269.10" x2="579.30" y2="269.10" stroke="#262626" stroke-width="0.7"/>
<line x1="577.30" y1="255.00" x2="579.30" y2="255.00" stroke="#262626" stroke-width="0.7"/>
<line x1="577.30" y1="240.70" x2="579.30" y2="240.70" stroke="#262626" stroke-width="0.7"/>
<line x1="577.30" y1="226.50" x2="579.30" y2="226.50" stroke="#262626" stroke-width="0.7"/>
<line x1="577.30" y1="212.40" x2="579.30" y2="212.40" stroke="#262626" stroke-width="0.7"/>
<line x1="577.30" y1="369.80" x2="579.30" y2="369.80" stroke="#262626" stroke-width="0.7"/>
<line x1="577.30" y1="349.80" x2="579.30" y2="349.80" stroke="#262626" stroke-width="0.7"/>
<line x1="577.30" y1="329.60" x2="579.30" y2="329.60" stroke="#262626" stroke-width="0.7"/>
<line x1="577.30" y1="309.60" x2="579.30" y2="309.60" stroke="#262626" stroke-width="0.7"/>
<text x="307.20" y="284.90" font-size="7.1" text-anchor="start" font-weight="normal" font-style="normal" fill="#222" color="#222" >0</text>
<text x="307.20" y="270.34" font-size="7.1" text-anchor="start" font-weight="normal" font-style="normal" fill="#222" color="#222" >04</text>
<text x="307.20" y="255.78" font-size="7.1" text-anchor="start" font-weight="normal" font-style="normal" fill="#222" color="#222" >0.8</text>
<text x="307.20" y="241.22" font-size="7.1" text-anchor="start" font-weight="normal" font-style="normal" fill="#222" color="#222" >0.12</text>
<text x="307.20" y="226.66" font-size="7.1" text-anchor="start" font-weight="normal" font-style="normal" fill="#222" color="#222" >0.16</text>
<text x="307.20" y="212.10" font-size="7.1" text-anchor="start" font-weight="normal" font-style="normal" fill="#222" color="#222" >0.2</text>
<text x="307.20" y="371.00" font-size="7.1" text-anchor="start" font-weight="normal" font-style="normal" fill="#222" color="#222" >0</text>
<text x="307.20" y="356.44" font-size="7.1" text-anchor="start" font-weight="normal" font-style="normal" fill="#222" color="#222" >0.4</text>
<text x="307.20" y="341.88" font-size="7.1" text-anchor="start" font-weight="normal" font-style="normal" fill="#222" color="#222" >0.8</text>
<text x="307.20" y="327.32" font-size="7.1" text-anchor="start" font-weight="normal" font-style="normal" fill="#222" color="#222" >0.12</text>
<text x="307.20" y="312.76" font-size="7.1" text-anchor="start" font-weight="normal" font-style="normal" fill="#222" color="#222" >0.16</text>
<text x="307.20" y="298.20" font-size="7.1" text-anchor="start" font-weight="normal" font-style="normal" fill="#222" color="#222" >0.2</text>
<text x="659.80" y="284.90" font-size="7.1" text-anchor="start" font-weight="normal" font-style="normal" fill="#222" color="#222" >0</text>
<text x="659.80" y="270.34" font-size="7.1" text-anchor="start" font-weight="normal" font-style="normal" fill="#222" color="#222" >0.2</text>
<text x="659.80" y="255.78" font-size="7.1" text-anchor="start" font-weight="normal" font-style="normal" fill="#222" color="#222" >0.4</text>
<text x="659.80" y="241.22" font-size="7.1" text-anchor="start" font-weight="normal" font-style="normal" fill="#222" color="#222" >0.6</text>
<text x="659.80" y="226.66" font-size="7.1" text-anchor="start" font-weight="normal" font-style="normal" fill="#222" color="#222" >0.8</text>
<text x="659.80" y="212.10" font-size="7.1" text-anchor="start" font-weight="normal" font-style="normal" fill="#222" color="#222" >1</text>
<text x="659.80" y="371.00" font-size="7.1" text-anchor="start" font-weight="normal" font-style="normal" fill="#222" color="#222" >0</text>
<text x="659.80" y="356.44" font-size="7.1" text-anchor="start" font-weight="normal" font-style="normal" fill="#222" color="#222" >0.2</text>
<text x="659.80" y="341.88" font-size="7.1" text-anchor="start" font-weight="normal" font-style="normal" fill="#222" color="#222" >0.4</text>
<text x="659.80" y="327.32" font-size="7.1" text-anchor="start" font-weight="normal" font-style="normal" fill="#222" color="#222" >0.6</text>
<text x="659.80" y="312.76" font-size="7.1" text-anchor="start" font-weight="normal" font-style="normal" fill="#222" color="#222" >0.8</text>
<text x="659.80" y="298.20" font-size="7.1" text-anchor="start" font-weight="normal" font-style="normal" fill="#222" color="#222" >1</text>
<text x="0" y="0" font-size="8.5" text-anchor="middle" transform="translate(30.20,247.00) rotate(-90)">Sense strand</text>
<text x="0" y="0" font-size="8.5" text-anchor="middle" transform="translate(30.20,328.50) rotate(-90)">Both strands</text>
<text x="0" y="0" font-size="8.6" text-anchor="middle" transform="translate(16.60,287.60) rotate(-90)">Count</text>
<text x="0" y="0" font-size="8.5" text-anchor="middle" transform="translate(382.00,246.70) rotate(-90)">Sense strand</text>
<text x="0" y="0" font-size="8.5" text-anchor="middle" transform="translate(382.00,329.30) rotate(-90)">Both strands</text>
<text x="0" y="0" font-size="8.6" text-anchor="middle" transform="translate(369.00,288.20) rotate(-90)">Count</text>
<text x="0" y="0" font-size="8.2" text-anchor="middle" transform="translate(333.60,280.20) rotate(-90)">Fraction of modified motif sites</text>
<text x="0" y="0" font-size="8.2" text-anchor="middle" transform="translate(684.20,280.20) rotate(-90)">Fraction of modified motif sites</text>
<text x="178.00" y="198.20" font-size="8.6" text-anchor="middle" font-weight="bold" font-style="italic" fill="#000" color="#000" >B. salyersiae</text>
<text x="529.1" y="198.2" font-size="8.6" text-anchor="middle" font-weight="bold">Putative <tspan font-style="italic">B. faecalis</tspan></text>
<text x="50.30" y="381.00" font-size="8.6" text-anchor="middle" font-weight="normal" font-style="normal" fill="#000" color="#000" >-1k</text>
<text x="85.10" y="381.00" font-size="8.6" text-anchor="middle" font-weight="normal" font-style="normal" fill="#000" color="#000" >-500</text>
<text x="119.80" y="381.00" font-size="8.6" text-anchor="middle" font-weight="normal" font-style="normal" fill="#000" color="#000" >-1</text>
<text x="140.80" y="381.00" font-size="8.6" text-anchor="middle" font-weight="normal" font-style="normal" fill="#000" color="#000" >0</text>
<text x="177.30" y="381.00" font-size="8.6" text-anchor="middle" font-weight="normal" font-style="normal" fill="#000" color="#000" >0.5</text>
<text x="211.40" y="381.00" font-size="8.6" text-anchor="middle" font-weight="normal" font-style="normal" fill="#000" color="#000" >1</text>
<text x="229.80" y="381.00" font-size="8.6" text-anchor="middle" font-weight="normal" font-style="normal" fill="#000" color="#000" >1</text>
<text x="265.80" y="381.00" font-size="8.6" text-anchor="middle" font-weight="normal" font-style="normal" fill="#000" color="#000" >500</text>
<text x="300.00" y="381.00" font-size="8.6" text-anchor="middle" font-weight="normal" font-style="normal" fill="#000" color="#000" >1k</text>
<text x="402.20" y="381.00" font-size="8.6" text-anchor="middle" font-weight="normal" font-style="normal" fill="#000" color="#000" >-1k</text>
<text x="436.60" y="381.00" font-size="8.6" text-anchor="middle" font-weight="normal" font-style="normal" fill="#000" color="#000" >-500</text>
<text x="471.70" y="381.00" font-size="8.6" text-anchor="middle" font-weight="normal" font-style="normal" fill="#000" color="#000" >-1</text>
<text x="492.00" y="381.00" font-size="8.6" text-anchor="middle" font-weight="normal" font-style="normal" fill="#000" color="#000" >0</text>
<text x="529.00" y="381.00" font-size="8.6" text-anchor="middle" font-weight="normal" font-style="normal" fill="#000" color="#000" >0.5</text>
<text x="562.90" y="381.00" font-size="8.6" text-anchor="middle" font-weight="normal" font-style="normal" fill="#000" color="#000" >1</text>
<text x="582.30" y="381.00" font-size="8.6" text-anchor="middle" font-weight="normal" font-style="normal" fill="#000" color="#000" >1</text>
<text x="618.00" y="381.00" font-size="8.6" text-anchor="middle" font-weight="normal" font-style="normal" fill="#000" color="#000" >500</text>
<text x="653.00" y="381.00" font-size="8.6" text-anchor="middle" font-weight="normal" font-style="normal" fill="#000" color="#000" >1k</text>
<text x="84.80" y="391.00" font-size="8.6" text-anchor="middle" font-weight="normal" font-style="normal" fill="#000" color="#000" >upstream (bp)</text>
<text x="175.30" y="391.00" font-size="8.6" text-anchor="middle" font-weight="normal" font-style="normal" fill="#000" color="#000" >genebody</text>
<text x="267.20" y="391.00" font-size="8.6" text-anchor="middle" font-weight="normal" font-style="normal" fill="#000" color="#000" >downstream (bp)</text>
<text x="436.50" y="391.00" font-size="8.6" text-anchor="middle" font-weight="normal" font-style="normal" fill="#000" color="#000" >upstream (bp)</text>
<text x="527.70" y="391.00" font-size="8.6" text-anchor="middle" font-weight="normal" font-style="normal" fill="#000" color="#000" >genebody</text>
<text x="618.30" y="391.00" font-size="8.6" text-anchor="middle" font-weight="normal" font-style="normal" fill="#000" color="#000" >downstream (bp)</text>
<rect x="17.60" y="404.6" width="6.4" height="7.0" fill="#F1AEB4" stroke="#555" stroke-width="0.5"/>
<text x="27.10" y="410.90" font-size="8.6" text-anchor="start" font-weight="normal" font-style="normal" fill="#000" color="#000" >ACTC,CCTC and TCTC sites</text>
<rect x="150.60" y="404.6" width="6.4" height="7.0" fill="#C67DBB" stroke="#555" stroke-width="0.5"/>
<text x="160.30" y="410.90" font-size="8.6" text-anchor="start" font-weight="normal" font-style="normal" fill="#000" color="#000" >Modified sites</text>
<line x1="222.00" y1="407.80" x2="233.80" y2="407.80" stroke="#000" stroke-width="1.2"/>
<text x="236.70" y="410.90" font-size="8.6" text-anchor="start" font-weight="normal" font-style="normal" fill="#000" color="#000" >fraction of modified sites</text>
<rect x="389.30" y="404.6" width="6.4" height="7.0" fill="#F1AEB4" stroke="#555" stroke-width="0.5"/>
<text x="398.90" y="410.90" font-size="8.6" text-anchor="start" font-weight="normal" font-style="normal" fill="#000" color="#000" >GAAG,GACG sites</text>
<rect x="498.90" y="404.6" width="6.4" height="7.0" fill="#C67DBB" stroke="#555" stroke-width="0.5"/>
<text x="508.00" y="410.90" font-size="8.6" text-anchor="start" font-weight="normal" font-style="normal" fill="#000" color="#000" >Modified sites</text>
<line x1="573.50" y1="407.80" x2="583.00" y2="407.80" stroke="#000" stroke-width="1.2"/>
<text x="586.80" y="410.90" font-size="8.6" text-anchor="start" font-weight="normal" font-style="normal" fill="#000" color="#000" >fraction of modified sites</text>
<line x1="58.2" y1="14.4" x2="100.8" y2="14.4" stroke="#E36C6C" stroke-width="0.7" opacity="0.85"/>
<line x1="507.0" y1="14.2" x2="578.0" y2="14.2" stroke="#E36C6C" stroke-width="0.7" opacity="0.85"/>
<line x1="161.9" y1="199.5" x2="204.2" y2="199.5" stroke="#E36C6C" stroke-width="0.7" opacity="0.85"/>
<line x1="536.2" y1="199.3" x2="568.3" y2="199.3" stroke="#E36C6C" stroke-width="0.7" opacity="0.85"/>
<line x1="98.6" y1="392.4" x2="110.3" y2="392.4" stroke="#E36C6C" stroke-width="0.7" opacity="0.85"/>
<line x1="156.2" y1="392.3" x2="195.6" y2="392.3" stroke="#E36C6C" stroke-width="0.7" opacity="0.85"/>
<line x1="286.0" y1="392.4" x2="300.0" y2="392.4" stroke="#E36C6C" stroke-width="0.7" opacity="0.85"/>
<line x1="450.0" y1="392.4" x2="463.0" y2="392.4" stroke="#E36C6C" stroke-width="0.7" opacity="0.85"/>
<line x1="509.0" y1="392.3" x2="546.4" y2="392.3" stroke="#E36C6C" stroke-width="0.7" opacity="0.85"/>
<line x1="637.0" y1="392.4" x2="650.6" y2="392.4" stroke="#E36C6C" stroke-width="0.7" opacity="0.85"/>
</svg></body></html>
